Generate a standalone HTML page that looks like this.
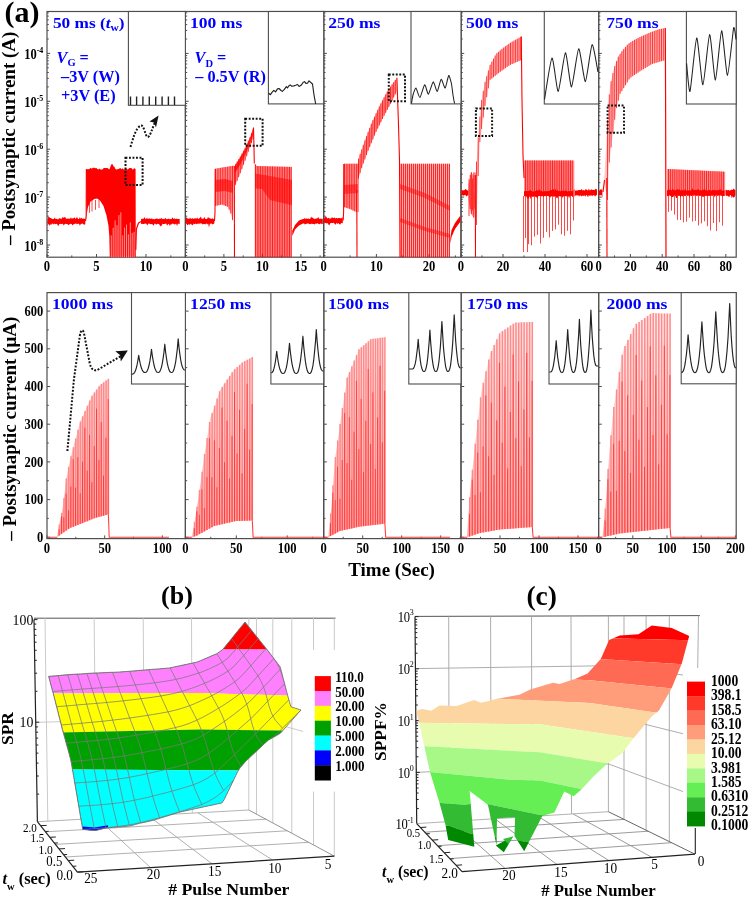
<!DOCTYPE html>
<html><head><meta charset="utf-8"><style>
html,body{margin:0;padding:0;background:#fff;width:749px;height:897px;overflow:hidden}
svg{display:block;will-change:transform;font-family:"Liberation Serif", serif}
</style></head><body>
<svg width="749" height="897" viewBox="0 0 749 897">
<rect width="749" height="897" fill="#fff"/>
<rect x="47" y="11.5" width="138.4" height="245.7" fill="none" stroke="#4e4e4e" stroke-width="1.2"/>
<path d="M47,255.6h1.8M47,252.4h1.8M47,249.6h1.8M47,247.2h1.8M47,245h3.2M47,230.6h1.8M47,222.1h1.8M47,216.2h1.8M47,211.5h1.8M47,207.7h1.8M47,204.5h1.8M47,201.7h1.8M47,199.3h1.8M47,197.1h3.2M47,182.7h1.8M47,174.2h1.8M47,168.3h1.8M47,163.6h1.8M47,159.8h1.8M47,156.6h1.8M47,153.8h1.8M47,151.4h1.8M47,149.2h3.2M47,134.8h1.8M47,126.3h1.8M47,120.4h1.8M47,115.7h1.8M47,111.9h1.8M47,108.7h1.8M47,105.9h1.8M47,103.5h1.8M47,101.3h3.2M47,86.9h1.8M47,78.4h1.8M47,72.5h1.8M47,67.8h1.8M47,64h1.8M47,60.8h1.8M47,58h1.8M47,55.6h1.8M47,53.4h3.2M47,39h1.8M47,30.5h1.8M47,24.6h1.8M47,19.9h1.8M47,16.1h1.8M47,12.9h1.8" stroke="#4e4e4e" stroke-width="1" fill="none"/>
<path d="M47,257.2v-3.2M71.8,257.2v-1.8M96.5,257.2v-3.2M121.2,257.2v-1.8M146,257.2v-3.2M170.8,257.2v-1.8" stroke="#4e4e4e" stroke-width="1" fill="none"/>
<rect x="185.4" y="11.5" width="138.3" height="245.7" fill="none" stroke="#4e4e4e" stroke-width="1.2"/>
<path d="M185.4,255.6h1.8M185.4,252.4h1.8M185.4,249.6h1.8M185.4,247.2h1.8M185.4,245h3.2M185.4,230.6h1.8M185.4,222.1h1.8M185.4,216.2h1.8M185.4,211.5h1.8M185.4,207.7h1.8M185.4,204.5h1.8M185.4,201.7h1.8M185.4,199.3h1.8M185.4,197.1h3.2M185.4,182.7h1.8M185.4,174.2h1.8M185.4,168.3h1.8M185.4,163.6h1.8M185.4,159.8h1.8M185.4,156.6h1.8M185.4,153.8h1.8M185.4,151.4h1.8M185.4,149.2h3.2M185.4,134.8h1.8M185.4,126.3h1.8M185.4,120.4h1.8M185.4,115.7h1.8M185.4,111.9h1.8M185.4,108.7h1.8M185.4,105.9h1.8M185.4,103.5h1.8M185.4,101.3h3.2M185.4,86.9h1.8M185.4,78.4h1.8M185.4,72.5h1.8M185.4,67.8h1.8M185.4,64h1.8M185.4,60.8h1.8M185.4,58h1.8M185.4,55.6h1.8M185.4,53.4h3.2M185.4,39h1.8M185.4,30.5h1.8M185.4,24.6h1.8M185.4,19.9h1.8M185.4,16.1h1.8M185.4,12.9h1.8" stroke="#4e4e4e" stroke-width="1" fill="none"/>
<path d="M185.4,257.2v-3.2M204.7,257.2v-1.8M223.9,257.2v-3.2M243.2,257.2v-1.8M262.4,257.2v-3.2M281.6,257.2v-1.8M300.9,257.2v-3.2M320.1,257.2v-1.8" stroke="#4e4e4e" stroke-width="1" fill="none"/>
<rect x="323.7" y="11.5" width="137.3" height="245.7" fill="none" stroke="#4e4e4e" stroke-width="1.2"/>
<path d="M323.7,255.6h1.8M323.7,252.4h1.8M323.7,249.6h1.8M323.7,247.2h1.8M323.7,245h3.2M323.7,230.6h1.8M323.7,222.1h1.8M323.7,216.2h1.8M323.7,211.5h1.8M323.7,207.7h1.8M323.7,204.5h1.8M323.7,201.7h1.8M323.7,199.3h1.8M323.7,197.1h3.2M323.7,182.7h1.8M323.7,174.2h1.8M323.7,168.3h1.8M323.7,163.6h1.8M323.7,159.8h1.8M323.7,156.6h1.8M323.7,153.8h1.8M323.7,151.4h1.8M323.7,149.2h3.2M323.7,134.8h1.8M323.7,126.3h1.8M323.7,120.4h1.8M323.7,115.7h1.8M323.7,111.9h1.8M323.7,108.7h1.8M323.7,105.9h1.8M323.7,103.5h1.8M323.7,101.3h3.2M323.7,86.9h1.8M323.7,78.4h1.8M323.7,72.5h1.8M323.7,67.8h1.8M323.7,64h1.8M323.7,60.8h1.8M323.7,58h1.8M323.7,55.6h1.8M323.7,53.4h3.2M323.7,39h1.8M323.7,30.5h1.8M323.7,24.6h1.8M323.7,19.9h1.8M323.7,16.1h1.8M323.7,12.9h1.8" stroke="#4e4e4e" stroke-width="1" fill="none"/>
<path d="M323.7,257.2v-3.2M350.1,257.2v-1.8M376.4,257.2v-3.2M402.8,257.2v-1.8M429.1,257.2v-3.2M455.4,257.2v-1.8" stroke="#4e4e4e" stroke-width="1" fill="none"/>
<rect x="461" y="11.5" width="137.6" height="245.7" fill="none" stroke="#4e4e4e" stroke-width="1.2"/>
<path d="M461,255.6h1.8M461,252.4h1.8M461,249.6h1.8M461,247.2h1.8M461,245h3.2M461,230.6h1.8M461,222.1h1.8M461,216.2h1.8M461,211.5h1.8M461,207.7h1.8M461,204.5h1.8M461,201.7h1.8M461,199.3h1.8M461,197.1h3.2M461,182.7h1.8M461,174.2h1.8M461,168.3h1.8M461,163.6h1.8M461,159.8h1.8M461,156.6h1.8M461,153.8h1.8M461,151.4h1.8M461,149.2h3.2M461,134.8h1.8M461,126.3h1.8M461,120.4h1.8M461,115.7h1.8M461,111.9h1.8M461,108.7h1.8M461,105.9h1.8M461,103.5h1.8M461,101.3h3.2M461,86.9h1.8M461,78.4h1.8M461,72.5h1.8M461,67.8h1.8M461,64h1.8M461,60.8h1.8M461,58h1.8M461,55.6h1.8M461,53.4h3.2M461,39h1.8M461,30.5h1.8M461,24.6h1.8M461,19.9h1.8M461,16.1h1.8M461,12.9h1.8" stroke="#4e4e4e" stroke-width="1" fill="none"/>
<path d="M461,257.2v-3.2M482,257.2v-1.8M503,257.2v-3.2M524,257.2v-1.8M545,257.2v-3.2M566,257.2v-1.8M587,257.2v-3.2" stroke="#4e4e4e" stroke-width="1" fill="none"/>
<rect x="598.6" y="11.5" width="137.6" height="245.7" fill="none" stroke="#4e4e4e" stroke-width="1.2"/>
<path d="M598.6,255.6h1.8M598.6,252.4h1.8M598.6,249.6h1.8M598.6,247.2h1.8M598.6,245h3.2M598.6,230.6h1.8M598.6,222.1h1.8M598.6,216.2h1.8M598.6,211.5h1.8M598.6,207.7h1.8M598.6,204.5h1.8M598.6,201.7h1.8M598.6,199.3h1.8M598.6,197.1h3.2M598.6,182.7h1.8M598.6,174.2h1.8M598.6,168.3h1.8M598.6,163.6h1.8M598.6,159.8h1.8M598.6,156.6h1.8M598.6,153.8h1.8M598.6,151.4h1.8M598.6,149.2h3.2M598.6,134.8h1.8M598.6,126.3h1.8M598.6,120.4h1.8M598.6,115.7h1.8M598.6,111.9h1.8M598.6,108.7h1.8M598.6,105.9h1.8M598.6,103.5h1.8M598.6,101.3h3.2M598.6,86.9h1.8M598.6,78.4h1.8M598.6,72.5h1.8M598.6,67.8h1.8M598.6,64h1.8M598.6,60.8h1.8M598.6,58h1.8M598.6,55.6h1.8M598.6,53.4h3.2M598.6,39h1.8M598.6,30.5h1.8M598.6,24.6h1.8M598.6,19.9h1.8M598.6,16.1h1.8M598.6,12.9h1.8" stroke="#4e4e4e" stroke-width="1" fill="none"/>
<path d="M598.6,257.2v-3.2M614.5,257.2v-1.8M630.4,257.2v-3.2M646.3,257.2v-1.8M662.2,257.2v-3.2M678.1,257.2v-1.8M694,257.2v-3.2M709.9,257.2v-1.8M725.8,257.2v-3.2" stroke="#4e4e4e" stroke-width="1" fill="none"/>
<rect x="47" y="292.6" width="138.4" height="246" fill="none" stroke="#4e4e4e" stroke-width="1.2"/>
<path d="M47,537.3h3.2M47,518.4h1.8M47,499.6h3.2M47,480.7h1.8M47,461.9h3.2M47,443h1.8M47,424.2h3.2M47,405.3h1.8M47,386.5h3.2M47,367.6h1.8M47,348.8h3.2M47,329.9h1.8M47,311.1h3.2" stroke="#4e4e4e" stroke-width="1" fill="none"/>
<path d="M47,538.6v-3.2M75.8,538.6v-1.8M104.7,538.6v-3.2M133.5,538.6v-1.8M162.3,538.6v-3.2" stroke="#4e4e4e" stroke-width="1" fill="none"/>
<rect x="185.4" y="292.6" width="138.3" height="246" fill="none" stroke="#4e4e4e" stroke-width="1.2"/>
<path d="M185.4,537.3h3.2M185.4,518.4h1.8M185.4,499.6h3.2M185.4,480.7h1.8M185.4,461.9h3.2M185.4,443h1.8M185.4,424.2h3.2M185.4,405.3h1.8M185.4,386.5h3.2M185.4,367.6h1.8M185.4,348.8h3.2M185.4,329.9h1.8M185.4,311.1h3.2" stroke="#4e4e4e" stroke-width="1" fill="none"/>
<path d="M185.4,538.6v-3.2M210.8,538.6v-1.8M236.3,538.6v-3.2M261.8,538.6v-1.8M287.2,538.6v-3.2M312.6,538.6v-1.8" stroke="#4e4e4e" stroke-width="1" fill="none"/>
<rect x="323.7" y="292.6" width="137.3" height="246" fill="none" stroke="#4e4e4e" stroke-width="1.2"/>
<path d="M323.7,537.3h3.2M323.7,518.4h1.8M323.7,499.6h3.2M323.7,480.7h1.8M323.7,461.9h3.2M323.7,443h1.8M323.7,424.2h3.2M323.7,405.3h1.8M323.7,386.5h3.2M323.7,367.6h1.8M323.7,348.8h3.2M323.7,329.9h1.8M323.7,311.1h3.2" stroke="#4e4e4e" stroke-width="1" fill="none"/>
<path d="M323.7,538.6v-3.2M343.2,538.6v-1.8M362.7,538.6v-3.2M382.2,538.6v-1.8M401.7,538.6v-3.2M421.2,538.6v-1.8M440.7,538.6v-3.2M460.2,538.6v-1.8" stroke="#4e4e4e" stroke-width="1" fill="none"/>
<rect x="461" y="292.6" width="137.6" height="246" fill="none" stroke="#4e4e4e" stroke-width="1.2"/>
<path d="M461,537.3h3.2M461,518.4h1.8M461,499.6h3.2M461,480.7h1.8M461,461.9h3.2M461,443h1.8M461,424.2h3.2M461,405.3h1.8M461,386.5h3.2M461,367.6h1.8M461,348.8h3.2M461,329.9h1.8M461,311.1h3.2" stroke="#4e4e4e" stroke-width="1" fill="none"/>
<path d="M461,538.6v-3.2M480.5,538.6v-1.8M500,538.6v-3.2M519.5,538.6v-1.8M539,538.6v-3.2M558.5,538.6v-1.8M578,538.6v-3.2M597.5,538.6v-1.8" stroke="#4e4e4e" stroke-width="1" fill="none"/>
<rect x="598.6" y="292.6" width="137.6" height="246" fill="none" stroke="#4e4e4e" stroke-width="1.2"/>
<path d="M598.6,537.3h3.2M598.6,518.4h1.8M598.6,499.6h3.2M598.6,480.7h1.8M598.6,461.9h3.2M598.6,443h1.8M598.6,424.2h3.2M598.6,405.3h1.8M598.6,386.5h3.2M598.6,367.6h1.8M598.6,348.8h3.2M598.6,329.9h1.8M598.6,311.1h3.2" stroke="#4e4e4e" stroke-width="1" fill="none"/>
<path d="M598.6,538.6v-3.2M615.7,538.6v-1.8M632.8,538.6v-3.2M649.9,538.6v-1.8M667,538.6v-3.2M684.1,538.6v-1.8M701.2,538.6v-3.2M718.3,538.6v-1.8M735.4,538.6v-3.2" stroke="#4e4e4e" stroke-width="1" fill="none"/>
<defs>
<clipPath id="ct0"><rect x="47" y="11.5" width="138.4" height="245.7"/></clipPath>
<clipPath id="cb0"><rect x="47" y="292.6" width="138.4" height="246"/></clipPath>
<clipPath id="ct1"><rect x="185.4" y="11.5" width="138.3" height="245.7"/></clipPath>
<clipPath id="cb1"><rect x="185.4" y="292.6" width="138.3" height="246"/></clipPath>
<clipPath id="ct2"><rect x="323.7" y="11.5" width="137.3" height="245.7"/></clipPath>
<clipPath id="cb2"><rect x="323.7" y="292.6" width="137.3" height="246"/></clipPath>
<clipPath id="ct3"><rect x="461" y="11.5" width="137.6" height="245.7"/></clipPath>
<clipPath id="cb3"><rect x="461" y="292.6" width="137.6" height="246"/></clipPath>
<clipPath id="ct4"><rect x="598.6" y="11.5" width="137.6" height="245.7"/></clipPath>
<clipPath id="cb4"><rect x="598.6" y="292.6" width="137.6" height="246"/></clipPath>
<linearGradient id="spg" gradientUnits="userSpaceOnUse" x1="0" y1="320" x2="0" y2="535"><stop offset="0" stop-color="#ffeaea"/><stop offset="0.55" stop-color="#ffc8c8"/><stop offset="1" stop-color="#ffa8a8"/></linearGradient>
</defs>
<g clip-path="url(#ct0)">
<polygon points="47.5,219.1 48.4,217.1 49.3,217.1 50.2,218.1 51.1,218.1 52,219.1 52.9,219.1 53.8,218.9 54.7,217.6 55.6,219 56.5,218.7 57.4,219.3 58.3,219.2 59.2,218.3 60.1,218.3 61,218.9 61.9,218.6 62.8,216.8 63.7,218 64.6,217 65.5,217.6 66.4,218.9 67.3,218.6 68.2,218.7 69.1,218.4 70,219.1 70.9,217.3 71.8,218.7 72.7,218.3 73.6,218.3 74.5,217.2 75.4,219.1 76.3,217.7 77.2,217.3 78.1,219 79,219.1 79.9,217 80.8,219 81.7,217.6 82.6,219.1 83.5,218.6 84.4,218.7 85.3,219.1 85.3,224 84.4,224.7 83.5,224.4 82.6,223.6 81.7,223.8 80.8,224 79.9,225.7 79,223.8 78.1,223.8 77.2,224 76.3,223.7 75.4,223.6 74.5,224 73.6,224.3 72.7,225.6 71.8,224.3 70.9,223.8 70,224 69.1,224.8 68.2,224.9 67.3,223.9 66.4,223.9 65.5,223.8 64.6,224.3 63.7,225.5 62.8,223.7 61.9,223.9 61,224 60.1,223.8 59.2,224.2 58.3,226.2 57.4,224.5 56.5,223.7 55.6,224.3 54.7,223.6 53.8,224.5 52.9,223.8 52,223.5 51.1,224.9 50.2,224.2 49.3,225.7 48.4,223.7 47.5,225.9" fill="#ff0000" fill-opacity="1.0"/>
<polyline points="85.5,221 86.2,216 86.4,169" fill="none" stroke="#ff0000" stroke-width="1.2" stroke-opacity="1.0" stroke-linejoin="round"/>
<polygon points="86.4,169.3 87.4,169.2 88.4,169.2 89.4,169.1 90.4,168.1 91.4,168.6 92.4,168.3 93.4,167.7 94.4,167.7 95.4,168.2 96.4,168.1 97.4,169 98.4,169.5 99.4,168.5 100.4,169.5 101.4,169.6 102.4,169.5 103.4,168.3 104.4,168 105.4,168.1 106.4,168 107.4,168 108.4,168.8 109.4,169.4 110.4,166.7 111.4,164.2 112.4,164.1 113.4,166.3 114.4,166.7 115.4,168.9 116.4,169.4 117.4,169.2 118.4,169.1 119.4,168.6 120.4,168 121.4,169.2 122.4,168.3 123.4,169.2 124.4,169.5 125.4,168.4 126.4,168.4 127.4,169.5 128.4,169 129.4,167.9 130.4,167.9 131.4,167.9 132.4,169.4 133.4,169.2 134.4,167.9 135.4,169.3 135.6,168.6 135.8,257.5 109.8,257.5 109.3,236 108.5,226 106.5,215.5 103.5,206 100,200.5 97,198.5 94.4,199 90.5,201.5 88,207 86.8,214 86.6,221" fill="#ff0000" fill-opacity="1.0"/>
<path d="M111.3,235.5V257.5M113.2,227.8V257.5M115.1,220.4V257.5M117,225.2V257.5M118.9,215.1V257.5M120.8,212.3V257.5M122.7,235.3V257.5M124.6,227.6V257.5M126.5,224.6V257.5M128.4,234.4V257.5M130.3,222.4V257.5M132.2,232.9V257.5M134.1,231.8V257.5" stroke="#ffffff" stroke-width="0.9" stroke-opacity="0.62" fill="none"/>
<path d="M89.5,200V212.8M92,200V211.5M95.5,200V209.8M99,200V208" stroke="#ff0000" stroke-width="0.8" stroke-opacity="0.9" fill="none"/>
<polyline points="135.8,250 136.4,229 138.5,223 141,221.5" fill="none" stroke="#ff0000" stroke-width="1.2" stroke-opacity="1.0" stroke-linejoin="round"/>
<polygon points="141,219.2 141.9,218.8 142.8,218.7 143.7,218.7 144.6,217 145.5,219.3 146.4,218.2 147.3,218.4 148.2,218.8 149.1,218.4 150,218.4 150.9,219 151.8,218.3 152.7,219.2 153.6,219.1 154.5,219.3 155.4,219 156.3,218.4 157.2,218.6 158.1,219.1 159,219.1 159.9,218.4 160.8,218.8 161.7,218.1 162.6,219.3 163.5,218.8 164.4,219.3 165.3,217.7 166.2,219.1 167.1,219.2 168,218.8 168.9,218.8 169.8,219.3 170.7,219.1 171.6,219.1 172.5,217.3 173.4,218.9 174.3,218.3 175.2,218.9 176.1,218.7 177,218.8 177.9,219.1 178.8,219.1 179.7,219 179.7,224.1 178.8,223.8 177.9,223.7 177,226.1 176.1,223.6 175.2,224.2 174.3,224.4 173.4,223.7 172.5,223.6 171.6,224.4 170.7,224.2 169.8,225.9 168.9,223.8 168,224.2 167.1,225.8 166.2,223.6 165.3,223.8 164.4,224 163.5,224.1 162.6,223.7 161.7,225.6 160.8,226.5 159.9,225.6 159,223.9 158.1,223.9 157.2,223.7 156.3,224.8 155.4,223.8 154.5,223.8 153.6,225.8 152.7,224.5 151.8,223.9 150.9,224.3 150,223.9 149.1,223.5 148.2,223.7 147.3,225.6 146.4,223.7 145.5,223.6 144.6,223.7 143.7,224 142.8,223.9 141.9,223.8 141,224.1" fill="#ff0000" fill-opacity="1.0"/>
</g>
<g clip-path="url(#ct1)">
<polygon points="185.6,218.7 186.5,217.3 187.4,218.5 188.3,218.5 189.2,219 190.1,217.4 191,219 191.9,218.5 192.8,218.2 193.7,219 194.6,218.3 195.5,218.3 196.4,218.7 197.3,217.4 198.2,218.9 199.1,218.4 200,217.8 200.9,216.6 201.8,219.1 202.7,218.8 203.6,218.5 204.5,216.9 205.4,219.1 206.3,218.9 207.2,218.7 208.1,216.8 209,218.5 209.9,217.8 210.8,219 211.7,218.8 212.6,218.2 213.5,219 214.4,219 214.4,223.3 213.5,223.9 212.6,224.4 211.7,223.5 210.8,223.8 209.9,223.7 209,227.4 208.1,223.5 207.2,224.4 206.3,223.3 205.4,224.6 204.5,224.1 203.6,223.9 202.7,224.6 201.8,223.6 200.9,223.6 200,223.3 199.1,224.1 198.2,223.6 197.3,223.8 196.4,224.2 195.5,223.4 194.6,224.2 193.7,223.5 192.8,225.4 191.9,224.4 191,224.4 190.1,223.4 189.2,225.3 188.3,223.9 187.4,225.4 186.5,223.8 185.6,223.4" fill="#ff0000" fill-opacity="1.0"/>
<polyline points="214.5,221 215,212 215.2,169" fill="none" stroke="#ff0000" stroke-width="1.1" stroke-opacity="1.0" stroke-linejoin="round"/>
<polygon points="215.2,168.8 234.5,165.4 233,222 231,214 228,207 222,204.5 215.2,206" fill="#ff0000" fill-opacity="0.32"/>
<path d="M215.5,168.7V205.9M217.2,168.4V205.6M218.9,168.1V205.2M220.6,167.8V204.8M222.3,167.5V204.6M224,167.2V205.3M225.7,167V206M227.4,166.7V206.7M229.1,166.4V209.6M230.8,166.1V213.5M232.5,165.8V220" stroke="#ff0000" stroke-width="0.9" stroke-opacity="0.85" fill="none"/>
<polygon points="215.2,180 225,179 233,181 233,193 225,191 215.2,192" fill="#ff0000" fill-opacity="0.6"/>
<polyline points="234.3,166 234.5,257.5" fill="none" stroke="#ff0000" stroke-width="1.1" stroke-opacity="1.0" stroke-linejoin="round"/>
<polygon points="235,165 240,157 245,148 250,137 253.5,127.6 253.5,138 250,147 245,161 240,174 235,186" fill="#ff0000" fill-opacity="0.35"/>
<path d="M235.5,164.2V184.8M237.1,161.6V181M238.7,159.1V177.1M240.3,156.5V173.2M241.9,153.6V169.1M243.5,150.7V164.9M245.1,147.8V160.7M246.7,144.3V156.2M248.3,140.7V151.8M249.9,137.2V147.3M251.5,133V143.1M253.1,128.7V139" stroke="#ff0000" stroke-width="0.9" stroke-opacity="0.85" fill="none"/>
<polygon points="235,166 240,158 245,149 250,138 253.5,128 253.5,134 250,144 245,155 240,165 235,173" fill="#ff0000" fill-opacity="0.75"/>
<polyline points="253.5,127.6 254,148.5 254.3,163.5" fill="none" stroke="#ff0000" stroke-width="1.1" stroke-opacity="1.0" stroke-linejoin="round"/>
<polygon points="254.6,163.5 257,166 291.9,166.9 291.9,257.5 254.6,257.5" fill="#ff0000" fill-opacity="0.36"/>
<path d="M255.5,164.4V257.5M257.2,166V257.5M258.9,166V257.5M260.6,166.1V257.5M262.3,166.1V257.5M264,166.2V257.5M265.7,166.2V257.5M267.4,166.3V257.5M269.1,166.3V257.5M270.8,166.4V257.5M272.5,166.4V257.5M274.2,166.4V257.5M275.9,166.5V257.5M277.6,166.5V257.5M279.3,166.6V257.5M281,166.6V257.5M282.7,166.7V257.5M284.4,166.7V257.5M286.1,166.8V257.5M287.8,166.8V257.5M289.5,166.8V257.5M291.2,166.9V257.5" stroke="#ff0000" stroke-width="0.9" stroke-opacity="0.9" fill="none"/>
<polygon points="255,173.5 270,176 292,180 292,205.3 270,200 262,189 255,188.6" fill="#ff0000" fill-opacity="0.55"/>
<polygon points="292.2,231 295,225 299,220.5 303,219 303,223.5 299,225.5 295,229.5 292.4,236" fill="#ff0000" fill-opacity="1.0"/>
<polygon points="303,219 303.9,219.1 304.8,217.9 305.7,218.9 306.6,218.5 307.5,218.8 308.4,218.6 309.3,218.9 310.2,218.7 311.1,216.5 312,218 312.9,217.6 313.8,218.8 314.7,219 315.6,218.8 316.5,218.4 317.4,218.3 318.3,217.1 319.2,219.1 320.1,218.5 321,219 321.9,218.5 322.8,219 322.8,223.9 321.9,224 321,223.5 320.1,223.7 319.2,224.3 318.3,223.7 317.4,223.3 316.5,223.8 315.6,223.6 314.7,224.5 313.8,223.9 312.9,223.9 312,223.7 311.1,223.7 310.2,224.3 309.3,224 308.4,223.5 307.5,223.4 306.6,223.7 305.7,224 304.8,224.6 303.9,223.3 303,223.7" fill="#ff0000" fill-opacity="1.0"/>
</g>
<g clip-path="url(#ct2)">
<polygon points="323.9,216.9 324.8,218.3 325.7,216.1 326.6,217.3 327.5,218.5 328.4,217.8 329.3,218.4 330.2,218.4 331.1,218.4 332,216.9 332.9,217.9 333.8,217.9 334.7,217.6 335.6,218.5 336.5,217.7 337.4,218.5 338.3,217.9 339.2,218.1 340.1,218 341,218.4 341.9,217.7 342.8,217.6 342.8,223.3 341.9,223 341,223.3 340.1,224.7 339.2,224.1 338.3,222.9 337.4,223.9 336.5,222.8 335.6,224.7 334.7,224 333.8,222.7 332.9,223.1 332,223.1 331.1,223.1 330.2,223.3 329.3,225.6 328.4,224.4 327.5,223.1 326.6,223.4 325.7,222.9 324.8,222.7 323.9,223.4" fill="#ff0000" fill-opacity="1.0"/>
<polyline points="343.2,220.5 343.6,212 343.8,164" fill="none" stroke="#ff0000" stroke-width="1.1" stroke-opacity="1.0" stroke-linejoin="round"/>
<polygon points="343.8,163.7 358.7,163.7 356,212 350,209 343.8,207" fill="#ff0000" fill-opacity="0.33"/>
<path d="M344.5,163.7V207.2M346.2,163.7V207.8M347.9,163.7V208.3M349.6,163.7V208.9M351.3,163.7V209.6M353,163.7V210.5M354.7,163.7V211.3M356.4,163.7V212M358.1,163.7V212" stroke="#ff0000" stroke-width="0.9" stroke-opacity="0.85" fill="none"/>
<polygon points="344,185 358,184 358,193 344,194" fill="#ff0000" fill-opacity="0.5"/>
<polyline points="356.8,190 357,257.5" fill="none" stroke="#ff0000" stroke-width="1.1" stroke-opacity="1.0" stroke-linejoin="round"/>
<polygon points="358,160 365,140 372,122 380,105 388,90 396.9,77.8 396.9,91 392,101 384,116 376,132 368,151 362,167 358,180" fill="#ff0000" fill-opacity="0.35"/>
<path d="M358.5,158.6V178.4M360.1,154V173.2M361.7,149.4V168M363.3,144.9V163.5M364.9,140.3V159.3M366.5,136.1V155M368.1,132V150.8M369.7,127.9V147M371.3,123.8V143.2M372.9,120.1V139.4M374.5,116.7V135.6M376.1,113.3V131.8M377.7,109.9V128.6M379.3,106.5V125.4M380.9,103.3V122.2M382.5,100.3V119M384.1,97.3V115.8M385.7,94.3V112.8M387.3,91.3V109.8M388.9,88.8V106.8M390.5,86.6V103.8M392.1,84.4V100.8M393.7,82.2V97.5M395.3,80V94.3" stroke="#ff0000" stroke-width="0.9" stroke-opacity="0.85" fill="none"/>
<polyline points="396.9,77.8 398.5,125 399.5,160 400,257.5" fill="none" stroke="#ff0000" stroke-width="1.1" stroke-opacity="1.0" stroke-linejoin="round"/>
<polygon points="400,163.7 450,163.7 450,257.5 400,257.5" fill="#ff0000" fill-opacity="0.33"/>
<path d="M401.5,163.7V257.5M403.5,163.7V257.5M405.5,163.7V257.5M407.5,163.7V257.5M409.5,163.7V257.5M411.5,163.7V257.5M413.5,163.7V257.5M415.5,163.7V257.5M417.5,163.7V257.5M419.5,163.7V257.5M421.5,163.7V257.5M423.5,163.7V257.5M425.5,163.7V257.5M427.5,163.7V257.5M429.5,163.7V257.5M431.5,163.7V257.5M433.5,163.7V257.5M435.5,163.7V257.5M437.5,163.7V257.5M439.5,163.7V257.5M441.5,163.7V257.5M443.5,163.7V257.5M445.5,163.7V257.5M447.5,163.7V257.5M449.5,163.7V257.5" stroke="#ff0000" stroke-width="0.9" stroke-opacity="0.85" fill="none"/>
<polygon points="400,184 425,193 450,206 450,211 425,198 400,189" fill="#ff0000" fill-opacity="0.45"/>
<polygon points="400,218 425,227 450,234 450,238 425,231 400,222" fill="#ff0000" fill-opacity="0.45"/>
<polygon points="450.3,238 451.5,230 455,223 460.5,215.5 460.5,221.5 455,229 451.5,237 450.5,244" fill="#ff0000" fill-opacity="1.0"/>
</g>
<g clip-path="url(#ct3)">
<polygon points="461.2,190.3 462.1,190.5 463,189.9 463.9,190.5 464.8,189.7 465.7,189 466.6,189.7 467.5,190.5 468.4,190.5 468.4,195 467.5,195.6 466.6,196.5 465.7,195.3 464.8,195.1 463.9,195.4 463,195.8 462.1,195 461.2,195.2" fill="#ff0000" fill-opacity="1.0"/>
<polygon points="468.5,185 471,172 474,176 475,200 474,218 471,214 468.5,200" fill="#ff0000" fill-opacity="0.45"/>
<path d="M469,179.4V216.1M470.2,174.9V209M471.4,172.2V213.9M472.6,178.5V210.3M473.8,172.3V217.7M475,172.5V208.8" stroke="#ff0000" stroke-width="0.9" stroke-opacity="0.85" fill="none"/>
<polyline points="475.3,175 475.5,257.5" fill="none" stroke="#ff0000" stroke-width="1.1" stroke-opacity="1.0" stroke-linejoin="round"/>
<polygon points="475.5,176 478,140 481,103 485,82 490,65 496,54 503,48 510,43 516,39.5 521.3,36.5 521.3,60 510,65 500,72 490,80 485,106 480,140 478,180 476.5,225" fill="#ff0000" fill-opacity="0.22"/>
<path d="M476.5,161.6V225M478.2,137.5V176M479.9,116.6V142M481.6,99.9V129.1M483.3,90.9V117.6M485,82V106M486.7,76.2V97.2M488.4,70.4V88.3M490.1,64.8V79.9M491.8,61.7V78.6M493.5,58.6V77.2M495.2,55.5V75.8M496.9,53.2V74.5M498.6,51.8V73.1M500.3,50.3V71.8M502,48.9V70.6M503.7,47.5V69.4M505.4,46.3V68.2M507.1,45.1V67M508.8,43.9V65.8M510.5,42.7V64.8M512.2,41.7V64M513.9,40.7V63.3M515.6,39.7V62.5M517.3,38.8V61.8M519,37.8V61M520.7,36.8V60.3" stroke="#ff0000" stroke-width="0.9" stroke-opacity="0.8" fill="none"/>
<polyline points="521.3,36.5 522,100 523,155 524,178" fill="none" stroke="#ff0000" stroke-width="1.1" stroke-opacity="1.0" stroke-linejoin="round"/>
<polygon points="524,160.4 574.3,160.4 574.3,196 524,196" fill="#ff0000" fill-opacity="0.42"/>
<path d="M525.5,160.4V196M527.3,160.4V196M529.1,160.4V196M530.9,160.4V196M532.7,160.4V196M534.5,160.4V196M536.3,160.4V196M538.1,160.4V196M539.9,160.4V196M541.7,160.4V196M543.5,160.4V196M545.3,160.4V196M547.1,160.4V196M548.9,160.4V196M550.7,160.4V196M552.5,160.4V196M554.3,160.4V196M556.1,160.4V196M557.9,160.4V196M559.7,160.4V196M561.5,160.4V196M563.3,160.4V196M565.1,160.4V196M566.9,160.4V196M568.7,160.4V196M570.5,160.4V196M572.3,160.4V196" stroke="#ff0000" stroke-width="0.9" stroke-opacity="0.85" fill="none"/>
<path d="M525.5,196V238.1M528.5,196V244.1M531.5,196V245.3M534.5,196V236.6M537.5,196V234.8M540.5,196V243.5M543.5,196V237.8M546.5,196V231.9M549.5,196V237.4M552.5,196V230.9M555.5,196V229.4M558.5,196V224.7M561.5,196V234.3M564.5,196V235.7M567.5,196V230.8M570.5,196V234.3M573.5,196V220.5" stroke="#ff0000" stroke-width="0.9" stroke-opacity="0.8" fill="none"/>
<path d="M523.5,196V252M527.5,196V252" stroke="#ff0000" stroke-width="0.9" stroke-opacity="0.8" fill="none"/>
<polygon points="524,191.4 524.9,191.1 525.8,191.1 526.7,191 527.6,191.2 528.5,191.1 529.4,190.6 530.3,190 531.2,190.8 532.1,191.4 533,191.5 533.9,191.2 534.8,191.5 535.7,190.7 536.6,189.8 537.5,191.1 538.4,190.2 539.3,189.4 540.2,190.6 541.1,191 542,191.2 542.9,191.4 543.8,191.5 544.7,190.9 545.6,191.3 546.5,191.2 547.4,191.3 548.3,191 549.2,191.2 550.1,189.9 551,189.9 551.9,190.3 552.8,189.6 553.7,189 554.6,190.9 555.5,188.4 556.4,190.9 557.3,189.7 558.2,190.9 559.1,191.3 560,190.4 560.9,191.4 561.8,191.1 562.7,190.6 563.6,191.3 564.5,191.1 565.4,190.6 566.3,190.5 567.2,191.4 568.1,191.2 569,190.9 569.9,191.3 570.8,191.3 571.7,191.1 572.6,191.4 573.5,189.7 573.5,195.8 572.6,197.2 571.7,195.8 570.8,195.7 569.9,196 569,198.2 568.1,195.8 567.2,197.1 566.3,195.9 565.4,196.2 564.5,196.2 563.6,196 562.7,198 561.8,196.1 560.9,196.5 560,196.6 559.1,196.1 558.2,196.1 557.3,198.5 556.4,197.7 555.5,195.9 554.6,196.4 553.7,197.1 552.8,195.8 551.9,196.4 551,196.2 550.1,197.7 549.2,196.7 548.3,196.1 547.4,196 546.5,195.8 545.6,196.2 544.7,195.8 543.8,196.8 542.9,196.5 542,195.8 541.1,196.4 540.2,195.9 539.3,195.9 538.4,195.9 537.5,198.8 536.6,197.2 535.7,197.1 534.8,196.2 533.9,196.3 533,197.2 532.1,196.5 531.2,196.2 530.3,199.3 529.4,195.9 528.5,199 527.6,198.4 526.7,196.9 525.8,195.9 524.9,196.1 524,196.6" fill="#ff0000" fill-opacity="1.0"/>
<polygon points="574.5,188.8 575.4,190.7 576.3,190.5 577.2,190.6 578.1,190.3 579,190.1 579.9,190.1 580.8,190.1 581.7,189 582.6,190.5 583.5,189.9 584.4,190.7 585.3,189.4 586.2,189.2 587.1,190.1 588,190.4 588.9,188.5 589.8,190.6 590.7,190.1 591.6,189.2 592.5,189.9 593.4,189.7 594.3,190.2 595.2,189.2 596.1,188.8 597,189.8 597,195 596.1,195.2 595.2,196.6 594.3,195.6 593.4,195 592.5,195.9 591.6,195.4 590.7,195.5 589.8,195.9 588.9,194.9 588,197.3 587.1,195.5 586.2,194.9 585.3,196.7 584.4,195.2 583.5,195.9 582.6,195.5 581.7,196.4 580.8,195.6 579.9,195.6 579,196.4 578.1,195 577.2,195.5 576.3,195.3 575.4,195.4 574.5,196.7" fill="#ff0000" fill-opacity="1.0"/>
</g>
<g clip-path="url(#ct4)">
<polygon points="598.8,190.3 599.7,190.4 600.6,189.2 601.5,189.3 602.4,190.6 602.4,197.7 601.5,194.9 600.6,195.3 599.7,195.3 598.8,195.8" fill="#ff0000" fill-opacity="1.0"/>
<polyline points="603,192 604.5,180" fill="none" stroke="#ff0000" stroke-width="1.1" stroke-opacity="1.0" stroke-linejoin="round"/>
<polyline points="606.8,178 607,257.5" fill="none" stroke="#ff0000" stroke-width="1.1" stroke-opacity="1.0" stroke-linejoin="round"/>
<polygon points="604,182 606,150 608,110 610,86 614,68 618,57 622,51 628,44 634,40 640,37 650,32.5 658,29.5 665,28.1 665,60.2 652,64 640,71.3 630,78 620,94 616,110 612,140 609,165 607.5,200" fill="#ff0000" fill-opacity="0.22"/>
<path d="M607.5,120V200M609.3,94.4V162.5M611.1,81.1V147.5M612.9,73V133.3M614.7,66.1V119.8M616.5,61.1V108M618.3,56.6V100.8M620.1,53.9V93.8M621.9,51.2V91M623.7,49V88.1M625.5,46.9V85.2M627.3,44.8V82.3M629.1,43.3V79.4M630.9,42.1V77.4M632.7,40.9V76.2M634.5,39.8V75M636.3,38.9V73.8M638.1,38V72.6M639.9,37.1V71.4M641.7,36.2V70.3M643.5,35.4V69.2M645.3,34.6V68.1M647.1,33.8V67M648.9,33V65.9M650.7,32.2V64.8M652.5,31.6V63.9M654.3,30.9V63.3M656.1,30.2V62.8M657.9,29.5V62.3M659.7,29.2V61.7M661.5,28.8V61.2M663.3,28.4V60.7" stroke="#ff0000" stroke-width="0.9" stroke-opacity="0.8" fill="none"/>
<polyline points="665.3,28 665.6,100 666,257.5" fill="none" stroke="#ff0000" stroke-width="1.2" stroke-opacity="1.0" stroke-linejoin="round"/>
<polygon points="667,168.9 725.2,171.7 725.2,196 667,196" fill="#ff0000" fill-opacity="0.4"/>
<path d="M668.5,169V196M670.4,169.1V196M672.3,169.2V196M674.2,169.2V196M676.1,169.3V196M678,169.4V196M679.9,169.5V196M681.8,169.6V196M683.7,169.7V196M685.6,169.8V196M687.5,169.9V196M689.4,170V196M691.3,170.1V196M693.2,170.2V196M695.1,170.3V196M697,170.3V196M698.9,170.4V196M700.8,170.5V196M702.7,170.6V196M704.6,170.7V196M706.5,170.8V196M708.4,170.9V196M710.3,171V196M712.2,171.1V196M714.1,171.2V196M716,171.3V196M717.9,171.3V196M719.8,171.4V196M721.7,171.5V196M723.6,171.6V196" stroke="#ff0000" stroke-width="0.9" stroke-opacity="0.85" fill="none"/>
<path d="M668.5,196V211.9M671.5,196V210.6M674.5,196V214.6M677.5,196V219.9M680.5,196V220M683.5,196V222.4M686.5,196V221.7M689.5,196V217.6M692.5,196V221.5M695.5,196V220.9M698.5,196V225.5M701.5,196V223.4M704.5,196V221.3M707.5,196V226.2M710.5,196V230.5M713.5,196V223M716.5,196V231.1M719.5,196V222.3M722.5,196V225.7" stroke="#ff0000" stroke-width="0.9" stroke-opacity="0.8" fill="none"/>
<polygon points="667,190.5 667.9,189.9 668.8,189.8 669.7,189.8 670.6,190.1 671.5,190.4 672.4,188.8 673.3,190 674.2,189.6 675.1,190.6 676,190.1 676.9,189.6 677.8,189 678.7,190.2 679.6,189 680.5,190.4 681.4,190.6 682.3,189.8 683.2,190.5 684.1,190.5 685,188.8 685.9,190.6 686.8,190.5 687.7,190.5 688.6,190.3 689.5,190.4 690.4,190.4 691.3,190.4 692.2,187.9 693.1,190.1 694,189.9 694.9,189.8 695.8,190.2 696.7,190 697.6,189.5 698.5,189.2 699.4,190.3 700.3,190.3 701.2,190.3 702.1,190.6 703,189.1 703.9,190.2 704.8,188.9 705.7,190.3 706.6,190.2 707.5,190.5 708.4,190.6 709.3,189.7 710.2,190.2 711.1,190.4 712,190.4 712.9,189.7 713.8,190.2 714.7,190 715.6,190.2 716.5,190.3 717.4,190.4 718.3,189.9 719.2,190.3 720.1,188.4 721,190.5 721.9,190.4 722.8,190.5 723.7,190.4 724.6,190.4 724.6,196.2 723.7,195.6 722.8,196.7 721.9,195.5 721,194.9 720.1,194.9 719.2,195.5 718.3,194.9 717.4,195.7 716.5,194.8 715.6,194.9 714.7,197.4 713.8,195 712.9,195.1 712,195.9 711.1,195.1 710.2,195.8 709.3,195.7 708.4,195.6 707.5,196.5 706.6,194.9 705.7,196 704.8,195.6 703.9,197 703,196.3 702.1,197.2 701.2,195.4 700.3,195.3 699.4,196 698.5,195.2 697.6,195.3 696.7,195.8 695.8,195.4 694.9,195 694,194.8 693.1,194.9 692.2,195.8 691.3,195.9 690.4,195 689.5,198 688.6,195.3 687.7,195.3 686.8,194.8 685.9,194.8 685,196.4 684.1,195.5 683.2,194.9 682.3,196.7 681.4,195.5 680.5,197.5 679.6,195.2 678.7,195.8 677.8,195.2 676.9,198.1 676,198.1 675.1,195.1 674.2,195.1 673.3,197.1 672.4,197 671.5,197.3 670.6,195.5 669.7,194.9 668.8,195.4 667.9,196.3 667,196.1" fill="#ff0000" fill-opacity="1.0"/>
<polygon points="725.5,190.1 726.4,189.8 727.3,190.4 728.2,189.8 729.1,190.6 730,190.5 730.9,189.9 731.8,189.6 732.7,189.9 733.6,188.6 734.5,189.6 735.4,190.3 735.4,195.3 734.5,197.1 733.6,197.8 732.7,196.3 731.8,198.2 730.9,194.9 730,195.4 729.1,197.6 728.2,196 727.3,195.8 726.4,195.9 725.5,195" fill="#ff0000" fill-opacity="1.0"/>
</g>
<g clip-path="url(#cb0)">
<polyline points="47.5,537.3 57,537.3" fill="none" stroke="#ff4040" stroke-width="1.1" stroke-opacity="1.0" stroke-linejoin="round"/>
<polygon points="57,537 60,521 63,506.7 66,480.4 68.5,467.5 71,456.4 74,444.7 80.1,422 91.8,396 100,385 108.4,378.8 108.4,514.4 95,518 80,524.2 70,528 60,535 57,537.3" fill="url(#spg)"/>
<path d="M57,537.3V537M59.3,535.5V524.5M61.7,533.8V513M64,532.2V497.9M66.3,530.6V478.6M68.7,528.9V466.7M71,527.6V456.3M73.4,526.7V447.2M75.7,525.8V438.4M78,524.9V429.7M80.4,524V421.4M82.7,523.1V416.2M85,522.1V411M87.4,521.2V405.8M89.7,520.2V400.6M92,519.2V395.7M94.4,518.3V392.5M96.7,517.5V389.4M99.1,516.9V386.3M101.4,516.3V384M103.7,515.7V382.2M106.1,515V380.5M108.4,514.4V378.8" stroke="#ff8a8a" stroke-width="1.5" fill="none"/>
<path d="M56.8,537.3V537.2M59.1,535.5V529.2M61.5,533.8V516.1M63.8,532.2V517.2M66.1,530.6V493.6M68.5,528.9V510.3M70.8,527.6V486.6M73.2,526.7V459.1M75.5,525.8V487.6M77.8,524.9V457.1M80.2,524V493.3M82.5,523.1V461.6M84.8,522.1V427.7M87.2,521.2V470.7M89.5,520.2V435M91.8,519.2V482.2M94.2,518.3V446M96.5,517.5V408.6M98.9,516.9V459.8M101.2,516.3V422M103.5,515.7V475.6M105.9,515V437.7M108.2,514.4V399.1" stroke="#ff2020" stroke-width="0.8" fill="none" stroke-opacity="0.9"/>
<polyline points="108.4,514.4 109.2,537.3 168.9,537.3" fill="none" stroke="#ff4040" stroke-width="1.1" stroke-opacity="1.0" stroke-linejoin="round"/>
</g>
<g clip-path="url(#cb1)">
<polyline points="185.9,537.3 192,537.3" fill="none" stroke="#ff4040" stroke-width="1.1" stroke-opacity="1.0" stroke-linejoin="round"/>
<polygon points="192,537 195,519 198,501 200.6,482.5 203,464.7 205.5,447.7 208,432.4 210,419.4 213.5,408.9 220.1,390 233.7,370 243,362 252.3,357 252.3,520.5 235.7,521.1 214.2,526 196.7,535.7 192,537.3" fill="url(#spg)"/>
<path d="M192,537.3V537M194.5,536.4V521.9M197,535.5V506.8M199.5,534.1V490.1M202.1,532.7V471.7M204.6,531.3V454.1M207.1,529.9V438.1M209.6,528.6V422.1M212.1,527.2V413.1M214.6,525.9V405.7M217.1,525.3V398.5M219.6,524.8V391.3M222.2,524.2V387M224.7,523.6V383.3M227.2,523V379.6M229.7,522.5V375.9M232.2,521.9V372.2M234.7,521.3V369.1M237.2,521V367M239.7,521V364.8M242.2,520.9V362.6M244.8,520.8V361.1M247.3,520.7V359.7M249.8,520.6V358.4M252.3,520.5V357" stroke="#ff8a8a" stroke-width="1.5" fill="none"/>
<path d="M191.8,537.3V537.2M194.3,536.4V528.1M196.8,535.5V511.2M199.3,534.1V514.8M201.9,532.7V489.3M204.4,531.3V508.2M206.9,529.9V477.1M209.4,528.6V438.1M211.9,527.2V477.3M214.4,525.9V440.3M216.9,525.3V487.3M219.4,524.8V448M222,524.2V407.6M224.5,523.6V462.2M227,523V420.8M229.5,522.5V478.5M232,521.9V435.8M234.5,521.3V392M237,521V453.6M239.5,521V409.7M242.1,520.9V473.4M244.6,520.8V428.9M247.1,520.7V383.8M249.6,520.6V449.6M252.1,520.5V404" stroke="#ff2020" stroke-width="0.8" fill="none" stroke-opacity="0.9"/>
<polyline points="252.3,520.5 253.1,537.3 323,537.3" fill="none" stroke="#ff4040" stroke-width="1.1" stroke-opacity="1.0" stroke-linejoin="round"/>
</g>
<g clip-path="url(#cb2)">
<polyline points="324.2,537.3 328.3,537.3" fill="none" stroke="#ff4040" stroke-width="1.1" stroke-opacity="1.0" stroke-linejoin="round"/>
<polygon points="328.3,537 331.4,506.2 335,459.5 341,417.5 347,378 359,349.2 371,339.1 384.9,337.2 384.9,523.7 360,526.6 340,531 328.3,537.3" fill="url(#spg)"/>
<path d="M328.3,537.3V537M330.7,536V513.6M333,534.8V485.2M335.4,533.5V456.9M337.7,532.2V440.4M340.1,531V423.9M342.4,530.5V408M344.8,529.9V392.4M347.2,529.4V377.6M349.5,528.9V371.9M351.9,528.4V366.3M354.2,527.9V360.6M356.6,527.3V355M359,526.8V349.3M361.3,526.4V347.3M363.7,526.2V345.3M366,525.9V343.3M368.4,525.6V341.3M370.8,525.3V339.3M373.1,525.1V338.8M375.5,524.8V338.5M377.8,524.5V338.2M380.2,524.2V337.8M382.5,524V337.5M384.9,523.7V337.2" stroke="#ff8a8a" stroke-width="1.5" fill="none"/>
<path d="M328.1,537.3V537.2M330.5,536V523.1M332.8,534.8V492.7M335.2,533.5V500M337.5,532.2V466.8M339.9,531V498.8M342.2,530.5V460M344.6,529.9V413.1M347,529.4V463M349.3,528.9V417.1M351.7,528.4V479.8M354,527.9V431.7M356.4,527.3V380.8M358.8,526.8V449.2M361.1,526.4V398.8M363.5,526.2V471.9M365.8,525.9V420.9M368.2,525.6V368.9M370.6,525.3V444M372.9,525.1V392.4M375.3,524.8V468.9M377.6,524.5V417.4M380,524.2V365.8M382.3,524V442.4M384.7,523.7V390.8" stroke="#ff2020" stroke-width="0.8" fill="none" stroke-opacity="0.9"/>
<polyline points="384.9,523.7 385.7,537.3 450,537.3" fill="none" stroke="#ff4040" stroke-width="1.1" stroke-opacity="1.0" stroke-linejoin="round"/>
</g>
<g clip-path="url(#cb3)">
<polyline points="461.5,537.3 467,537.3" fill="none" stroke="#ff4040" stroke-width="1.1" stroke-opacity="1.0" stroke-linejoin="round"/>
<polygon points="467,537 470,493.1 476.3,432.9 481.3,391.5 490.1,353.9 500.1,332.5 515.2,322.5 532.3,322 532.3,527 500,529.5 480,533 467,537.3" fill="url(#spg)"/>
<path d="M467,537.3V537M469.7,536.4V497.2M472.4,535.5V469.8M475.2,534.6V443.8M477.9,533.7V419.8M480.6,532.9V397.3M483.3,532.4V382.8M486,531.9V371.2M488.8,531.5V359.6M491.5,531V350.9M494.2,530.5V345.1M496.9,530V339.3M499.6,529.6V333.5M502.4,529.3V331M505.1,529.1V329.2M507.8,528.9V327.4M510.5,528.7V325.6M513.3,528.5V323.8M516,528.3V322.5M518.7,528.1V322.4M521.4,527.8V322.3M524.1,527.6V322.2M526.9,527.4V322.2M529.6,527.2V322.1M532.3,527V322" stroke="#ff8a8a" stroke-width="1.5" fill="none"/>
<path d="M466.8,537.3V537.2M469.5,536.4V513.9M472.2,535.5V479.6M475,534.6V494.9M477.7,533.7V452.5M480.4,532.9V492.2M483.1,532.4V446.4M485.8,531.9V395.3M488.6,531.5V456.3M491.3,531V402.7M494,530.5V474.9M496.7,530V420.4M499.4,529.6V362.9M502.2,529.3V442.6M504.9,529.1V386.7M507.6,528.9V468.4M510.3,528.7V411.9M513.1,528.5V354.5M515.8,528.3V438.2M518.5,528.1V381.5M521.2,527.8V466.2M523.9,527.6V409.5M526.7,527.4V352.9M529.4,527.2V437.5M532.1,527V380.9" stroke="#ff2020" stroke-width="0.8" fill="none" stroke-opacity="0.9"/>
<polyline points="532.3,527 533.1,537.3 599,537.3" fill="none" stroke="#ff4040" stroke-width="1.1" stroke-opacity="1.0" stroke-linejoin="round"/>
</g>
<g clip-path="url(#cb4)">
<polyline points="599.1,537.3 602.5,537.3" fill="none" stroke="#ff4040" stroke-width="1.1" stroke-opacity="1.0" stroke-linejoin="round"/>
<polygon points="602.5,537 605.2,510.2 609.3,452.8 613.4,409.2 622.9,350.5 635.2,324.6 651.6,313.1 670.1,313.6 670.1,527.9 620,533.4 602.5,537.3" fill="url(#spg)"/>
<path d="M602.5,537.3V537M605.3,536.7V508.6M608.1,536V469.1M611,535.4V435.3M613.8,534.8V406.9M616.6,534.2V389.5M619.4,533.5V372.1M622.2,533.2V354.7M625,532.8V346M627.9,532.5V340.1M630.7,532.2V334.1M633.5,531.9V328.2M636.3,531.6V323.8M639.1,531.3V321.9M641.9,531V319.9M644.8,530.7V317.9M647.6,530.4V315.9M650.4,530.1V314M653.2,529.8V313.1M656,529.4V313.2M658.8,529.1V313.3M661.6,528.8V313.4M664.5,528.5V313.4M667.3,528.2V313.5M670.1,527.9V313.6" stroke="#ff8a8a" stroke-width="1.5" fill="none"/>
<path d="M602.3,537.3V537.2M605.1,536.7V520.5M607.9,536V479.2M610.8,535.4V491.6M613.6,534.8V443.7M616.4,534.2V490.8M619.2,533.5V440.7M622,533.2V381.5M624.8,532.8V451.1M627.6,532.5V395.4M630.5,532.2V472.8M633.3,531.9V414.8M636.1,531.6V355M638.9,531.3V439.7M641.7,531V380.6M644.5,530.7V466.8M647.4,530.4V407.1M650.2,530.1V346.4M653,529.8V435M655.8,529.4V375.4M658.6,529.1V464.4M661.4,528.8V404.9M664.3,528.5V345.7M667.1,528.2V434.3M669.9,527.9V375.2" stroke="#ff2020" stroke-width="0.8" fill="none" stroke-opacity="0.9"/>
<polyline points="670.1,527.9 670.9,537.3 736,537.3" fill="none" stroke="#ff4040" stroke-width="1.1" stroke-opacity="1.0" stroke-linejoin="round"/>
</g>
<rect x="128.4" y="11.5" width="57" height="93.8" fill="#fff" stroke="#4e4e4e" stroke-width="1.1"/>
<path d="M130.5,96.5V105M136.6,96.5V105M142.9,96.5V105M149.3,96.5V105M155.7,96.5V105M162.1,96.5V105M168.4,96.5V105M174.5,96.5V105" stroke="#222" stroke-width="1.4" stroke-opacity="1.0" fill="none"/>
<rect x="268.4" y="11.5" width="55.3" height="92.4" fill="#fff" stroke="#4e4e4e" stroke-width="1.1"/>
<polyline points="268.6,93.2 270.4,94.7 272,92.4 273.8,90.4 275.5,91.9 277.5,88.9 279,88.5 281,90.5 282.3,91.4 284.4,89.3 286.3,86.6 287.5,87.9 288.7,86 290.2,84.9 291.8,86.2 293.9,85.9 295.7,85.3 297.6,84.5 299.1,86.5 301.3,85.1 303.2,82.2 304.6,81.7 305.9,83.4 307.5,83.3 309,80.8 312.5,84 314,95 315.7,104" fill="none" stroke="#222" stroke-width="1.15" stroke-linejoin="round"/>
<rect x="411" y="11.5" width="50" height="92.4" fill="#fff" stroke="#4e4e4e" stroke-width="1.1"/>
<path d="M411.5,103.5C411.6,102.7 412.6,96.5 413,95C413.4,93.5 415.2,87.8 415.9,88C416.6,88.2 419,97.7 419.9,97.4C420.8,97.1 423.8,85.1 424.7,84.8C425.6,84.5 427.5,94.5 428.4,94.2C429.2,93.9 432.3,82.2 433.2,81.9C434.1,81.6 436.4,91.8 437.2,91.5C438,91.2 440.4,79.5 441.2,79.2C442,78.9 444.4,88.4 445.2,88C445.9,87.6 448.1,75.9 448.7,75.5C449.3,75.1 451.1,82 451.5,84C451.9,86 452.7,93 453,95C453.3,97 454.4,102.7 454.6,103.5" fill="none" stroke="#222" stroke-width="1.05"/>
<rect x="544.3" y="11.5" width="54.3" height="92.5" fill="#fff" stroke="#4e4e4e" stroke-width="1.1"/>
<path d="M544.5,99.5C545.2,95.3 550.6,58.8 552,58C553.4,57.2 556.9,91.9 558.2,91.4C559.5,90.9 564.1,53.2 565.4,52.7C566.7,52.2 570.2,87.3 571.5,86.9C572.8,86.5 577.3,49.2 578.7,48.7C580.1,48.2 584.1,82 585.4,81.6C586.7,81.2 590.8,45.7 592.1,44.7C593.4,43.7 597.4,69.3 598,72" fill="none" stroke="#222" stroke-width="1.05"/>
<rect x="686.4" y="11.5" width="49.8" height="92.5" fill="#fff" stroke="#4e4e4e" stroke-width="1.1"/>
<path d="M686.6,63.4C686.9,66.2 689,93.9 690,91.4C691,88.9 695.4,38.7 696.7,38C698,37.3 701.6,85.1 702.9,84.8C704.2,84.5 708.4,35.1 709.6,34.6C710.9,34.1 714.2,80.4 715.4,80C716.6,79.6 720.4,31.3 721.6,30.8C722.8,30.3 726.3,75.7 727.5,75.4C728.7,75.1 732.8,31.8 733.6,28.2C734.5,24.6 735.8,38.3 736,39.4" fill="none" stroke="#222" stroke-width="1.05"/>
<rect x="131.5" y="292.6" width="53.9" height="91.4" fill="#fff" stroke="#4e4e4e" stroke-width="1.1"/>
<polyline points="131.8,374.1 132.3,374.1 133.1,374 133.9,373.4 134.7,372.3 135.5,370.6 136.3,368 137.1,364.7 137.9,360.5 138.7,355.4 139.5,360.1 140.3,363.9 141.1,367 141.9,369.3 142.7,370.9 143.5,371.9 144.3,372.4 145.1,372.5 145.1,372.5 145.9,372.3 146.7,371.7 147.5,370.3 148.3,368.1 149.1,365 149.9,360.9 150.7,355.7 151.5,349.3 152.3,355.7 153.2,360.9 154,365 154.8,368.1 155.7,370.3 156.5,371.7 157.3,372.3 158.2,372.5 158.2,372.5 159,372.3 159.8,371.5 160.6,369.8 161.5,367.1 162.3,363.3 163.1,358.3 164,352 164.8,344.2 165.6,352 166.5,358.3 167.3,363.3 168.2,367.1 169,369.8 169.8,371.5 170.7,372.3 171.5,372.5 171.5,372.5 172.3,372.3 173.2,371.3 174,369.3 174.8,366.1 175.7,361.6 176.5,355.7 177.4,348.1 178.2,338.9 179,347.4 179.9,354.4 180.7,359.9 181.5,364.1 182.4,367 183.2,368.9 184.1,369.8 184.9,370 185.1,370" fill="none" stroke="#222" stroke-width="1.15" stroke-linejoin="round"/>
<rect x="270.9" y="292.6" width="52.8" height="91.4" fill="#fff" stroke="#4e4e4e" stroke-width="1.1"/>
<polyline points="271.2,372.8 271.9,372.7 272.6,372 273.3,370.8 273.9,368.7 274.6,365.9 275.3,362.1 276,357.3 276.7,351.4 277.5,357.5 278.3,362.4 279.1,366.3 279.9,369.3 280.7,371.4 281.5,372.7 282.3,373.3 283.1,373.5 283.1,373.5 283.9,373.3 284.7,372.4 285.5,370.6 286.3,367.8 287.1,363.8 287.9,358.4 288.7,351.7 289.5,343.4 290.3,351.7 291.2,358.4 292,363.8 292.9,367.8 293.7,370.6 294.5,372.4 295.4,373.3 296.2,373.5 296.2,373.5 297,373.2 297.9,372.2 298.7,370 299.5,366.4 300.4,361.4 301.2,354.8 302.1,346.4 302.9,336.2 303.7,346.4 304.6,354.8 305.4,361.4 306.2,366.4 307.1,370 307.9,372.2 308.8,373.2 309.6,373.5 309.6,373.5 310.4,373.2 311.3,371.9 312.1,369.3 313,365.2 313.8,359.3 314.6,351.4 315.5,341.6 316.3,329.5 317.1,340.9 318,350.2 318.8,357.6 319.6,363.1 320.5,367.1 321.3,369.5 322.2,370.7 323,371 323.4,371" fill="none" stroke="#222" stroke-width="1.15" stroke-linejoin="round"/>
<rect x="408.8" y="292.6" width="52.2" height="91.4" fill="#fff" stroke="#4e4e4e" stroke-width="1.1"/>
<polyline points="409.1,369 412.4,369 413.1,368.8 413.8,367.9 414.5,366.2 415.3,363.4 416,359.4 416.7,354.2 417.5,347.5 418.2,339.4 418.9,348.2 419.7,355.4 420.4,361.1 421.1,365.4 421.9,368.5 422.6,370.3 423.3,371.3 424,371.5 424,371.5 424.8,371.2 425.5,370 426.2,367.6 427,363.6 427.7,358.1 428.4,350.7 429.2,341.4 429.9,330 430.6,341.4 431.4,350.7 432.1,358.1 432.9,363.6 433.6,367.6 434.4,370 435.1,371.2 435.9,371.5 435.9,371.5 436.6,371.2 437.4,369.7 438.1,366.8 438.9,362 439.6,355.3 440.4,346.4 441.1,335.2 441.9,321.5 442.7,335.2 443.4,346.4 444.2,355.3 445,362 445.7,366.8 446.5,369.7 447.3,371.2 448,371.5 448,371.5 448.8,371.1 449.6,369.5 450.4,366.1 451.1,360.8 451.9,353.1 452.7,343.1 453.4,330.3 454.2,314.8 455,329.4 455.7,341.3 456.5,350.8 457.3,357.9 458,362.9 458.8,366.1 459.6,367.6 460.4,368 460.7,368" fill="none" stroke="#222" stroke-width="1.15" stroke-linejoin="round"/>
<rect x="549" y="292.6" width="49.6" height="91.4" fill="#fff" stroke="#4e4e4e" stroke-width="1.1"/>
<polyline points="549.3,372 550.5,372 551.2,371.8 551.9,370.9 552.6,369 553.3,366.1 554,361.9 554.8,356.3 555.5,349.3 556.2,340.7 556.9,349.4 557.6,356.6 558.4,362.2 559.1,366.5 559.8,369.5 560.5,371.4 561.2,372.3 562,372.5 562,372.5 562.7,372.2 563.4,371 564.1,368.4 564.8,364.4 565.5,358.6 566.3,350.9 567,341.3 567.7,329.5 568.4,341.3 569.2,350.9 569.9,358.6 570.6,364.4 571.4,368.4 572.1,371 572.8,372.2 573.5,372.5 573.5,372.5 574.3,372.1 575,370.6 575.7,367.5 576.5,362.4 577.2,355.3 577.9,345.9 578.7,334 579.4,319.4 580.1,334 580.8,345.9 581.6,355.3 582.3,362.4 583,367.5 583.7,370.6 584.4,372.1 585.1,372.5 585.1,372.5 585.9,372.1 586.6,370.3 587.3,366.6 588,360.7 588.7,352.3 589.5,341.2 590.2,327.1 590.9,310 591.6,325.4 592.3,337.9 593.1,347.9 593.8,355.4 594.5,360.7 595.2,364 595.9,365.6 596.6,366 598.3,366" fill="none" stroke="#222" stroke-width="1.15" stroke-linejoin="round"/>
<rect x="681.2" y="292.6" width="55" height="91.2" fill="#fff" stroke="#4e4e4e" stroke-width="1.1"/>
<polyline points="681.5,372.6 682.3,372.3 683.1,371.2 684,369 684.8,365.4 685.6,360.4 686.5,353.6 687.3,345.2 688.1,334.8 689,345.2 689.8,353.6 690.7,360.4 691.5,365.4 692.4,369 693.3,371.2 694.1,372.3 695,372.6 695,372.6 695.9,372.3 696.7,370.8 697.6,367.8 698.5,363 699.3,356.2 700.2,347.1 701,335.7 701.9,321.8 702.8,335.7 703.6,347.1 704.5,356.2 705.4,363 706.2,367.8 707.1,370.8 708,372.3 708.8,372.6 708.8,372.6 709.7,372.2 710.6,370.4 711.5,366.8 712.3,361.1 713.2,353 714.1,342.2 714.9,328.5 715.8,311.9 716.7,328.5 717.5,342.2 718.4,353 719.3,361.1 720.1,366.8 721,370.4 721.9,372.2 722.8,372.6 722.8,372.6 723.6,372.1 724.5,370.1 725.4,366 726.2,359.5 727.1,350.2 728,338 728.8,322.4 729.7,303.5 730.5,321.2 731.2,335.7 732,347.1 732.8,355.8 733.6,361.9 734.4,365.7 735.1,367.6 735.9,368" fill="none" stroke="#222" stroke-width="1.15" stroke-linejoin="round"/>
<rect x="125.5" y="157.7" width="17.1" height="27.3" fill="none" stroke="#111" stroke-width="2" stroke-dasharray="1.9,1.6"/>
<rect x="245.2" y="118.7" width="17.4" height="27.1" fill="none" stroke="#111" stroke-width="2" stroke-dasharray="1.9,1.6"/>
<rect x="388.8" y="74.5" width="16.2" height="26.7" fill="none" stroke="#111" stroke-width="2" stroke-dasharray="1.9,1.6"/>
<rect x="475.9" y="108.4" width="16.2" height="27.6" fill="none" stroke="#111" stroke-width="2" stroke-dasharray="1.9,1.6"/>
<rect x="607.6" y="105.6" width="16.4" height="27.1" fill="none" stroke="#111" stroke-width="2" stroke-dasharray="1.9,1.6"/>
<path d="M130.5,147 C133,138 136,128 140.6,125.6 C144,124 145,136 147.6,137 C150,137 152,129 155,122" fill="none" stroke="#111" stroke-width="2" stroke-dasharray="1.9,1.6"/>
<polygon points="158.6,115.5 149.5,121.5 154,122.5 156,127.5" fill="#111"/>
<path d="M67.4,451 L73.9,379.7 L79.8,336 C80.8,329 83.3,328 84.5,336 L89.5,362 C91,370 94.5,372 99,369 L121,356" fill="none" stroke="#111" stroke-width="2" stroke-dasharray="1.9,1.6"/>
<polygon points="127.8,350.4 115.3,351.2 120,355 120.8,361.5" fill="#111"/>
<text transform="translate(47,271.3) scale(1,1.12)" font-size="12.6" text-anchor="middle" font-weight="bold" fill="#000" >0</text>
<text transform="translate(96.5,271.3) scale(1,1.12)" font-size="12.6" text-anchor="middle" font-weight="bold" fill="#000" >5</text>
<text transform="translate(146,271.3) scale(1,1.12)" font-size="12.6" text-anchor="middle" font-weight="bold" fill="#000" >10</text>
<text transform="translate(47,552.8) scale(1,1.12)" font-size="12.6" text-anchor="middle" font-weight="bold" fill="#000" >0</text>
<text transform="translate(104.7,552.8) scale(1,1.12)" font-size="12.6" text-anchor="middle" font-weight="bold" fill="#000" >50</text>
<text transform="translate(162.3,552.8) scale(1,1.12)" font-size="12.6" text-anchor="middle" font-weight="bold" fill="#000" >100</text>
<text transform="translate(185.4,271.3) scale(1,1.12)" font-size="12.6" text-anchor="middle" font-weight="bold" fill="#000" >0</text>
<text transform="translate(223.9,271.3) scale(1,1.12)" font-size="12.6" text-anchor="middle" font-weight="bold" fill="#000" >5</text>
<text transform="translate(262.4,271.3) scale(1,1.12)" font-size="12.6" text-anchor="middle" font-weight="bold" fill="#000" >10</text>
<text transform="translate(300.9,271.3) scale(1,1.12)" font-size="12.6" text-anchor="middle" font-weight="bold" fill="#000" >15</text>
<text transform="translate(185.4,552.8) scale(1,1.12)" font-size="12.6" text-anchor="middle" font-weight="bold" fill="#000" >0</text>
<text transform="translate(236.3,552.8) scale(1,1.12)" font-size="12.6" text-anchor="middle" font-weight="bold" fill="#000" >50</text>
<text transform="translate(287.2,552.8) scale(1,1.12)" font-size="12.6" text-anchor="middle" font-weight="bold" fill="#000" >100</text>
<text transform="translate(323.7,271.3) scale(1,1.12)" font-size="12.6" text-anchor="middle" font-weight="bold" fill="#000" >0</text>
<text transform="translate(376.4,271.3) scale(1,1.12)" font-size="12.6" text-anchor="middle" font-weight="bold" fill="#000" >10</text>
<text transform="translate(429.1,271.3) scale(1,1.12)" font-size="12.6" text-anchor="middle" font-weight="bold" fill="#000" >20</text>
<text transform="translate(323.7,552.8) scale(1,1.12)" font-size="12.6" text-anchor="middle" font-weight="bold" fill="#000" >0</text>
<text transform="translate(362.7,552.8) scale(1,1.12)" font-size="12.6" text-anchor="middle" font-weight="bold" fill="#000" >50</text>
<text transform="translate(401.7,552.8) scale(1,1.12)" font-size="12.6" text-anchor="middle" font-weight="bold" fill="#000" >100</text>
<text transform="translate(440.7,552.8) scale(1,1.12)" font-size="12.6" text-anchor="middle" font-weight="bold" fill="#000" >150</text>
<text transform="translate(461,271.3) scale(1,1.12)" font-size="12.6" text-anchor="middle" font-weight="bold" fill="#000" >0</text>
<text transform="translate(503,271.3) scale(1,1.12)" font-size="12.6" text-anchor="middle" font-weight="bold" fill="#000" >20</text>
<text transform="translate(545,271.3) scale(1,1.12)" font-size="12.6" text-anchor="middle" font-weight="bold" fill="#000" >40</text>
<text transform="translate(587,271.3) scale(1,1.12)" font-size="12.6" text-anchor="middle" font-weight="bold" fill="#000" >60</text>
<text transform="translate(461,552.8) scale(1,1.12)" font-size="12.6" text-anchor="middle" font-weight="bold" fill="#000" >0</text>
<text transform="translate(500,552.8) scale(1,1.12)" font-size="12.6" text-anchor="middle" font-weight="bold" fill="#000" >50</text>
<text transform="translate(539,552.8) scale(1,1.12)" font-size="12.6" text-anchor="middle" font-weight="bold" fill="#000" >100</text>
<text transform="translate(578,552.8) scale(1,1.12)" font-size="12.6" text-anchor="middle" font-weight="bold" fill="#000" >150</text>
<text transform="translate(598.6,271.3) scale(1,1.12)" font-size="12.6" text-anchor="middle" font-weight="bold" fill="#000" >0</text>
<text transform="translate(630.4,271.3) scale(1,1.12)" font-size="12.6" text-anchor="middle" font-weight="bold" fill="#000" >20</text>
<text transform="translate(662.2,271.3) scale(1,1.12)" font-size="12.6" text-anchor="middle" font-weight="bold" fill="#000" >40</text>
<text transform="translate(694,271.3) scale(1,1.12)" font-size="12.6" text-anchor="middle" font-weight="bold" fill="#000" >60</text>
<text transform="translate(725.8,271.3) scale(1,1.12)" font-size="12.6" text-anchor="middle" font-weight="bold" fill="#000" >80</text>
<text transform="translate(598.6,552.8) scale(1,1.12)" font-size="12.6" text-anchor="middle" font-weight="bold" fill="#000" >0</text>
<text transform="translate(632.8,552.8) scale(1,1.12)" font-size="12.6" text-anchor="middle" font-weight="bold" fill="#000" >50</text>
<text transform="translate(667,552.8) scale(1,1.12)" font-size="12.6" text-anchor="middle" font-weight="bold" fill="#000" >100</text>
<text transform="translate(701.2,552.8) scale(1,1.12)" font-size="12.6" text-anchor="middle" font-weight="bold" fill="#000" >150</text>
<text transform="translate(735.4,552.8) scale(1,1.12)" font-size="12.6" text-anchor="middle" font-weight="bold" fill="#000" >200</text>
<text transform="translate(43.3,58.9) scale(1,1.15)" font-size="12.5" text-anchor="end" font-weight="bold">10<tspan font-size="8" dy="-5">-4</tspan></text>
<text transform="translate(43.3,106.8) scale(1,1.15)" font-size="12.5" text-anchor="end" font-weight="bold">10<tspan font-size="8" dy="-5">-5</tspan></text>
<text transform="translate(43.3,154.7) scale(1,1.15)" font-size="12.5" text-anchor="end" font-weight="bold">10<tspan font-size="8" dy="-5">-6</tspan></text>
<text transform="translate(43.3,202.6) scale(1,1.15)" font-size="12.5" text-anchor="end" font-weight="bold">10<tspan font-size="8" dy="-5">-7</tspan></text>
<text transform="translate(43.3,250.5) scale(1,1.15)" font-size="12.5" text-anchor="end" font-weight="bold">10<tspan font-size="8" dy="-5">-8</tspan></text>
<text transform="translate(43.3,541.9) scale(1,1.15)" font-size="12.5" text-anchor="end" font-weight="bold" fill="#000" >0</text>
<text transform="translate(43.3,504.2) scale(1,1.15)" font-size="12.5" text-anchor="end" font-weight="bold" fill="#000" >100</text>
<text transform="translate(43.3,466.5) scale(1,1.15)" font-size="12.5" text-anchor="end" font-weight="bold" fill="#000" >200</text>
<text transform="translate(43.3,428.8) scale(1,1.15)" font-size="12.5" text-anchor="end" font-weight="bold" fill="#000" >300</text>
<text transform="translate(43.3,391.1) scale(1,1.15)" font-size="12.5" text-anchor="end" font-weight="bold" fill="#000" >400</text>
<text transform="translate(43.3,353.4) scale(1,1.15)" font-size="12.5" text-anchor="end" font-weight="bold" fill="#000" >500</text>
<text transform="translate(43.3,315.7) scale(1,1.15)" font-size="12.5" text-anchor="end" font-weight="bold" fill="#000" >600</text>
<text x="4.6" y="21.6" font-size="30" text-anchor="start" font-weight="bold" fill="#000" >(a)</text>
<text transform="translate(15.3,138.3) rotate(-90)" font-size="19" text-anchor="middle" font-weight="bold">&#8211; Postsynaptic current (A)</text>
<text transform="translate(16.2,428.8) rotate(-90)" font-size="19" text-anchor="middle" font-weight="bold">&#8211; Postsynaptic current (&#956;A)</text>
<text x="391.6" y="575.6" font-size="19" text-anchor="middle" font-weight="bold" fill="#000" >Time (Sec)</text>
<text transform="translate(52.9,27.8) scale(1,0.9)" font-size="17.3" font-weight="bold" fill="#0000ff">50 ms (<tspan font-style="italic">t</tspan><tspan font-size="11.5" dy="4">w</tspan><tspan dy="-4">)</tspan></text>
<text x="56.5" y="62.6" font-size="16.3" font-weight="bold" fill="#0000ff"><tspan font-style="italic">V</tspan><tspan font-size="10.5" dy="3.5">G</tspan><tspan dy="-3.5"> =</tspan></text>
<text x="61" y="82.4" font-size="16.3" font-weight="bold" fill="#0000ff">&#8211;3V (W)</text>
<text x="61" y="100.6" font-size="16.3" font-weight="bold" fill="#0000ff">+3V (E)</text>
<text transform="translate(190,28) scale(1,0.88)" font-size="17.6" font-weight="bold" fill="#0000ff">100 ms</text>
<text x="194.5" y="63.1" font-size="16.3" font-weight="bold" fill="#0000ff"><tspan font-style="italic">V</tspan><tspan font-size="10.5" dy="3.5">D</tspan><tspan dy="-3.5"> =</tspan></text>
<text x="195.2" y="82.3" font-size="16.3" font-weight="bold" fill="#0000ff">&#8211; 0.5V (R)</text>
<text transform="translate(328.2,28) scale(1,0.88)" font-size="17.6" font-weight="bold" fill="#0000ff">250 ms</text>
<text transform="translate(466,28) scale(1,0.88)" font-size="17.6" font-weight="bold" fill="#0000ff">500 ms</text>
<text transform="translate(606.3,28) scale(1,0.88)" font-size="17.6" font-weight="bold" fill="#0000ff">750 ms</text>
<text transform="translate(52,309.2) scale(1,0.88)" font-size="17.6" font-weight="bold" fill="#0000ff">1000 ms</text>
<text transform="translate(190.1,309.2) scale(1,0.88)" font-size="17.6" font-weight="bold" fill="#0000ff">1250 ms</text>
<text transform="translate(328,309.2) scale(1,0.88)" font-size="17.6" font-weight="bold" fill="#0000ff">1500 ms</text>
<text transform="translate(466.9,309.2) scale(1,0.88)" font-size="17.6" font-weight="bold" fill="#0000ff">1750 ms</text>
<text transform="translate(606.4,309.2) scale(1,0.88)" font-size="17.6" font-weight="bold" fill="#0000ff">2000 ms</text>
<text transform="translate(176.9,604.3) scale(1,0.94)" font-size="26" text-anchor="middle" font-weight="bold" fill="#000" >(b)</text>
<text transform="translate(541.7,605.3) scale(1,0.97)" font-size="27.5" text-anchor="middle" font-weight="bold" fill="#000" >(c)</text>
<line x1="34" y1="618.2" x2="335.6" y2="618.2" stroke="#555" stroke-width="1.0"/>
<line x1="45" y1="617.3" x2="47.8" y2="821.1" stroke="#c4c4c4" stroke-width="0.9"/>
<line x1="94.1" y1="617.3" x2="96.3" y2="818.4" stroke="#c4c4c4" stroke-width="0.9"/>
<line x1="143.2" y1="617.3" x2="144.7" y2="815.8" stroke="#c4c4c4" stroke-width="0.9"/>
<line x1="191.5" y1="617.3" x2="192.3" y2="813.1" stroke="#c4c4c4" stroke-width="0.9"/>
<line x1="248.8" y1="617.3" x2="248.8" y2="810" stroke="#c4c4c4" stroke-width="0.9"/>
<line x1="256.5" y1="617.3" x2="256.5" y2="814.2" stroke="#c4c4c4" stroke-width="0.9"/>
<line x1="272.8" y1="617.3" x2="272.8" y2="823" stroke="#c4c4c4" stroke-width="0.9"/>
<line x1="291.8" y1="617.3" x2="291.8" y2="833.2" stroke="#c4c4c4" stroke-width="0.9"/>
<line x1="313.5" y1="617.3" x2="313.5" y2="845" stroke="#c4c4c4" stroke-width="0.9"/>
<line x1="334.3" y1="617.3" x2="334.3" y2="856.2" stroke="#c4c4c4" stroke-width="0.9"/>
<line x1="35.5" y1="722.4" x2="248.8" y2="716.4" stroke="#c4c4c4" stroke-width="0.9"/>
<line x1="248.8" y1="716.4" x2="334.3" y2="740.1" stroke="#c4c4c4" stroke-width="0.9"/>
<line x1="45.4" y1="831.8" x2="265.9" y2="819.2" stroke="#a8a8a8" stroke-width="0.9"/>
<line x1="55.4" y1="844.4" x2="287.3" y2="830.8" stroke="#a8a8a8" stroke-width="0.9"/>
<line x1="65.4" y1="857" x2="308.6" y2="842.3" stroke="#a8a8a8" stroke-width="0.9"/>
<line x1="150.5" y1="867.6" x2="97.6" y2="818.4" stroke="#a8a8a8" stroke-width="0.9"/>
<line x1="212" y1="863.8" x2="148.2" y2="815.6" stroke="#a8a8a8" stroke-width="0.9"/>
<line x1="272.5" y1="860" x2="197.9" y2="812.8" stroke="#a8a8a8" stroke-width="0.9"/>
<line x1="37.4" y1="821.7" x2="248.8" y2="810" stroke="#aaa" stroke-width="0.9"/>
<line x1="248.8" y1="810" x2="334.3" y2="856.2" stroke="#888" stroke-width="0.9"/>
<line x1="34" y1="619.6" x2="37.4" y2="821.7" stroke="#222" stroke-width="1.2"/>
<line x1="37.4" y1="821.7" x2="77.4" y2="872.1" stroke="#222" stroke-width="1.2"/>
<line x1="77.4" y1="872.1" x2="334.3" y2="856.2" stroke="#222" stroke-width="1.2"/>
<path d="M36.9,794.1h2.2M36.6,776h2.2M36.4,763.1h2.2M36.2,753.1h2.2M36.1,745h2.2M36,738.1h2.2M35.9,732.2h2.2M35.8,726.9h2.2M35.7,722.2h3.5M35.2,691.3h2.2M34.9,673.2h2.2M34.7,660.3h2.2M34.5,650.3h2.2M34.4,642.2h2.2M34.3,635.3h2.2M34.2,629.4h2.2M34.1,624.1h2.2M34,619.6h3.5" stroke="#222" stroke-width="1" fill="none"/>
<path d="M40.6,825.7l6,-0.3M45.2,831.5l3.5,-0.2M49.8,837.3l6,-0.3M54.4,843.1l3.5,-0.2M59,848.9l6,-0.3M63.6,854.7l3.5,-0.2M68.2,860.5l6,-0.3M72.8,866.3l3.5,-0.2M77.4,872.1l6,-0.3" stroke="#222" stroke-width="1" fill="none"/>
<defs><clipPath id="surfb"><polygon points="48.6,676.4 52.1,676.1 55.7,675.8 59.2,675.5 62.8,675.1 66.3,674.8 69.9,674.5 73.4,674.3 77,674.1 80.5,673.9 84.1,673.7 87.6,673.4 91.2,673.2 94.7,673 98.3,672.9 101.8,672.7 105.4,672.6 109,672.4 112.5,672.3 116.1,672.2 119.6,672 123.2,671.7 126.7,671.5 130.3,671.2 133.8,670.9 137.4,670.6 140.9,670.3 144.5,670 148,669.7 151.5,669.4 155.1,669.2 158.6,668.9 162.2,668.6 165.7,668.3 169.3,668 172.8,667.3 176.2,666.5 179.7,665.8 183.2,665 186.7,664.3 190.2,663.6 193.6,662.8 197.1,662.1 200.4,660.7 203.7,659.3 207,657.9 210.2,656.5 213.5,655.1 216.8,653.7 219.7,651.7 222.5,649.6 224.8,646.9 227.1,644.1 229.3,641.4 231.6,638.6 233.8,635.8 236,633.1 238.3,630.3 240.5,627.5 242.8,624.8 245,622 245,622 246.1,623.4 247.3,624.8 248.4,626.3 249.5,627.7 250.7,629.1 251.8,630.5 252.9,631.9 254.1,633.4 255.2,634.8 256.3,636.2 257.5,637.6 258.6,639 259.7,640.4 260.9,641.9 262,643.3 263.1,644.7 264.3,646.1 265.4,647.5 266.5,649 267.7,650.4 268.8,651.8 269.9,653.3 271,654.7 272.1,656.2 273.2,657.6 274.3,659.1 275.4,660.5 276.5,661.9 277.6,663.4 278.7,664.8 279.8,666.3 280.5,667.9 280.9,669.7 281.4,671.4 281.9,673.2 282.3,674.9 282.8,676.7 283.2,678.5 283.7,680.2 284.2,682 284.6,683.7 285.1,685.5 285.5,687.2 286,689 286.4,690.8 286.9,692.5 287.4,694.3 287.8,696 288.3,697.8 288.8,699.5 289.3,701.3 289.8,703 290.3,704.8 290.8,706.5 292.3,707.3 294.1,707.8 295.8,708.4 297.5,708.9 299.3,709.5 301,710 301,710 298,713.3 295.1,716.7 292.1,720 289.2,723.3 286.2,726.7 283.3,730 280.3,733.3 276.5,735.6 272.6,737.7 268.7,739.9 265.4,742.8 262.1,745.9 258.9,748.9 255.7,752 252.4,755 249.2,758.1 245.9,761.1 243,764.4 240.1,767.8 237.7,771.5 235.8,775.5 233.8,779.6 231.9,783.6 230,787.6 228.1,791.6 226.1,795.6 224.2,799.6 221.8,803 217.4,803.9 213.1,804.9 208.7,805.8 204.4,806.7 200,807.7 195.7,808.6 191.3,809.6 187,810.5 182.6,811.4 178.3,812.5 174,813.8 169.8,815.2 165.5,816.5 161.3,817.8 157,819.1 152.8,820.4 148.4,821.4 144.1,822.4 139.7,823.3 135.4,824.4 131.2,825.7 126.8,826.3 122.3,826.6 117.9,827 113.5,827.4 109,827.7 104.6,828.3 100.3,829.4 96,830.4 91.6,830.4 87.1,829.9 82.7,829.4 82.7,829.4 82.3,826.8 81.8,824.2 81.4,821.7 80.9,819.1 80.5,816.5 80,813.9 79.6,811.4 79.2,808.8 78.7,806.2 78.3,803.6 77.8,801 77.4,798.5 77,795.9 76.5,793.3 76.1,790.7 75.6,788.2 75.2,785.6 74.7,783 74.3,780.4 73.9,777.8 73.4,775.3 73,772.7 72.5,770.1 72.1,767.5 71.7,765 71.2,762.4 70.7,759.8 70,757.3 69.4,754.8 68.7,752.2 68,749.7 67.3,747.2 66.6,744.7 65.9,742.2 65.2,739.6 64.5,737.1 63.8,734.6 63.1,732.1 62.4,729.6 61.7,727 61.1,724.5 60.5,722 59.8,719.4 59.2,716.9 58.5,714.4 57.9,711.8 57.2,709.3 56.6,706.7 55.9,704.2 55.3,701.7 54.7,699.1 54,696.6 53.4,694.1 52.7,691.6 52,689 51.3,686.5 50.6,684 50,681.5 49.3,678.9 48.6,676.4"/></clipPath></defs>
<g clip-path="url(#surfb)">
<polygon points="40,600 320,600 320,649.4 40,649.4" fill="#ff0000" fill-opacity="1.0"/>
<polygon points="40,649.4 320,649.4 320,696.5 200,693 40,693.5" fill="#ff80ff" fill-opacity="1.0"/>
<polygon points="40,693.5 200,693 320,696.5 320,731 200,729.5 40,733" fill="#ffff00" fill-opacity="1.0"/>
<polygon points="40,733 200,729.5 320,731 320,771 40,769.2" fill="#00a000" fill-opacity="1.0"/>
<polygon points="40,769.2 320,771 320,900 40,900" fill="#00ffff" fill-opacity="1.0"/>
<polygon points="80,826.3 94.7,827.6 108,825.3 108,840 80,840" fill="#0000ff" fill-opacity="1.0"/>
<path d="M48.6,676.4 L50.6,684 L52.7,691.6 L54.6,699.1 L56.6,706.7 L58.5,714.3 L60.5,721.9 L62.5,729.5 L64.5,737.1 L66.6,744.7 L68.5,752.3 L70.2,759.9 L71.8,767.6 L73.3,775.3 L74.7,783 L76.1,790.7 L77.4,798.5 L78.7,806.2 L80,813.9 L81.4,821.7 L82.7,829.4M58.2,675.6 L60.3,683.1 L62.4,690.7 L64.5,698.3 L66.6,705.9 L68.7,713.5 L70.7,721.1 L72.8,728.7 L75,736.2 L77.1,743.8 L79.2,751.4 L81,759.1 L82.6,766.8 L84.2,774.5 L85.7,782.3 L87.1,790.1 L88.5,797.8 L89.9,805.6 L91.4,813.3 L92.9,821 L94.4,828.7M67.7,674.7 L70,682.3 L72.2,689.9 L74.4,697.4 L76.6,705 L78.8,712.6 L81,720.2 L83.2,727.8 L85.5,735.3 L87.7,742.9 L89.9,750.5 L91.8,758.2 L93.5,765.9 L95.1,773.7 L96.6,781.4 L98.1,789.2 L99.6,797 L101.1,804.7 L102.7,812.4 L104.4,820.1 L106,827.8M77.3,674.1 L79.7,681.6 L82,689.1 L84.4,696.6 L86.7,704.2 L88.9,711.7 L91.2,719.3 L93.6,726.8 L95.9,734.3 L98.3,741.9 L100.5,749.4 L102.5,757.1 L104.3,764.8 L106,772.6 L107.5,780.3 L109.1,788.1 L110.7,795.9 L112.3,803.6 L114,811.3 L115.9,818.9 L117.7,826.5M86.9,673.5 L89.4,680.9 L91.8,688.4 L94.3,695.9 L96.7,703.3 L99.1,710.8 L101.5,718.3 L103.9,725.8 L106.4,733.2 L108.9,740.7 L111.2,748.2 L113.2,755.9 L115.1,763.5 L116.8,771.3 L118.4,779 L120.1,786.8 L121.7,794.5 L123.4,802.2 L125.3,809.8 L127.3,817.3 L129.2,824.8M96.5,673 L99,680.3 L101.6,687.7 L104.2,695.1 L106.7,702.4 L109.2,709.8 L111.7,717.2 L114.2,724.6 L116.8,731.9 L119.4,739.3 L121.8,746.8 L123.9,754.3 L125.8,761.9 L127.6,769.6 L129.3,777.3 L130.9,784.9 L132.6,792.6 L134.5,800.2 L136.4,807.7 L138.6,815.1 L140.7,822.5M112.4,672.3 L115.2,679.4 L117.9,686.5 L120.6,693.7 L123.3,700.8 L126,708 L128.6,715.2 L131.3,722.3 L134.1,729.5 L136.8,736.6 L139.3,743.9 L141.5,751.2 L143.5,758.7 L145.4,766.2 L147.1,773.7 L148.9,781.2 L150.7,788.7 L152.7,796.1 L154.8,803.4 L157.2,810.5 L159.6,817.7M129.5,671.2 L132.4,678.1 L135.3,684.9 L138.1,691.8 L141,698.7 L143.8,705.6 L146.7,712.5 L149.5,719.4 L152.4,726.3 L155.3,733.2 L157.9,740.3 L160.3,747.4 L162.4,754.7 L164.3,762 L166.1,769.3 L167.9,776.7 L169.8,783.9 L171.9,791.1 L174.3,798.2 L176.9,805 L179.6,811.8M148.6,669.7 L151.7,676.3 L154.7,682.8 L157.8,689.4 L160.8,696 L163.8,702.6 L166.8,709.2 L169.9,715.8 L172.9,722.4 L176,729 L178.7,735.7 L181.2,742.7 L183.4,749.7 L185.4,756.7 L187.2,763.8 L189.1,770.9 L191.1,777.9 L193.4,784.9 L196,791.6 L198.9,798.1 L201.8,804.5M169.8,667.4 L172.9,673.3 L176,679.3 L179.1,685.3 L182.2,691.3 L185.3,697.3 L188.4,703.3 L191.5,709.3 L194.6,715.3 L197.6,721.3 L200.4,727.6 L202.9,733.9 L205,740.4 L207,746.9 L208.7,753.5 L210.6,760.1 L212.6,766.6 L214.9,773 L217.5,779.2 L220.6,785 L223.7,790.8M192.8,662.7 L195.8,667.9 L198.7,673 L201.7,678.2 L204.6,683.3 L207.5,688.5 L210.5,693.7 L213.4,698.8 L216.3,704 L219.2,709.2 L221.8,714.6 L224,720.2 L225.9,725.9 L227.6,731.7 L229.1,737.6 L230.6,743.4 L232.4,749.1 L234.5,754.7 L237.1,760 L240.2,764.9 L243.2,769.8M216.6,653.5 L219.5,657.9 L222.3,662.4 L225.1,666.8 L228,671.2 L230.8,675.7 L233.6,680.1 L236.4,684.6 L239.2,689.1 L242,693.5 L244.4,698.3 L246.4,703.2 L248.1,708.3 L249.5,713.4 L250.7,718.7 L252,723.9 L253.6,729 L255.5,733.9 L258,738.5 L261.1,742.6 L264.2,746.7M231.6,638.6 L234.6,642.8 L237.6,647 L240.6,651.3 L243.7,655.5 L246.7,659.7 L249.7,664 L252.6,668.2 L255.6,672.5 L258.6,676.8 L261.1,681.4 L263.2,686.1 L265,691.1 L266.5,696.1 L267.7,701.2 L269.1,706.3 L270.8,711.3 L272.9,716.1 L275.6,720.5 L279,724.3 L282.4,728.2M245,622 L248.3,626.1 L251.6,630.3 L254.9,634.4 L258.2,638.5 L261.5,642.7 L264.8,646.8 L268,651 L271.3,655.1 L274.5,659.3 L277.3,663.8 L279.6,668.6 L281.6,673.5 L283.2,678.5 L284.6,683.6 L286.1,688.7 L288,693.6 L290.4,698.3 L293.4,702.6 L297.2,706.3 L301,710M48.6,676.4 L55.7,675.8 L62.8,675.1 L69.9,674.6 L76.9,674.1 L84,673.7 L91.1,673.3 L98.2,672.9 L105.3,672.6 L112.4,672.3 L119.5,671.9 L126.6,671.4 L133.7,670.9 L140.8,670.3 L147.9,669.7 L155,669.1 L162,668.4 L169.1,667.4 L176.1,666.4 L183.1,665.1 L190,663.4 L196.9,661.5 L203.6,659.3 L210.2,656.5 L216.6,653.5 L222.3,649.4 L227,644 L231.6,638.6 L236,633 L240.5,627.5 L245,622M52.7,691.6 L59.9,690.9 L67.2,690.3 L74.4,689.7 L81.7,689.1 L88.9,688.6 L96.2,688.1 L103.4,687.6 L110.7,687.1 L117.9,686.5 L125.1,685.9 L132.4,685.2 L139.6,684.5 L146.8,683.7 L154,682.9 L161.2,681.9 L168.3,680.8 L175.3,679.5 L182.3,677.9 L189.2,676 L196,673.9 L202.8,671.6 L209.4,668.8 L215.9,665.7 L222.3,662.4 L228,658 L232.9,652.6 L237.6,647 L242.3,641.4 L246.9,635.9 L251.6,630.3M56.6,706.7 L64,706.1 L71.4,705.5 L78.9,704.8 L86.3,704.2 L93.7,703.6 L101.1,703 L108.5,702.3 L115.9,701.6 L123.3,700.8 L130.7,700 L138,699.1 L145.4,698.2 L152.7,697.2 L160.1,696.1 L167.3,694.8 L174.5,693.3 L181.5,691.5 L188.4,689.4 L195.2,687 L201.9,684.4 L208.6,681.6 L215.2,678.5 L221.6,675 L228,671.2 L233.7,666.6 L238.8,661.1 L243.7,655.5 L248.5,649.8 L253.4,644.2 L258.2,638.5M61.3,725 L68.9,724.3 L76.5,723.7 L84.2,723 L91.8,722.3 L99.4,721.6 L107,720.8 L114.6,719.9 L122.2,719 L129.7,718 L137.3,716.9 L144.8,715.8 L152.3,714.6 L159.8,713.3 L167.3,712 L174.7,710.3 L181.9,708.3 L188.9,706 L195.7,703.2 L202.4,700.2 L209,697.1 L215.6,693.7 L222,690 L228.4,686 L234.7,681.9 L240.6,677 L245.8,671.4 L250.9,665.7 L255.9,659.9 L261,654.2 L266.1,648.5M66.1,743.2 L74,742.5 L81.8,741.9 L89.6,741.1 L97.4,740.4 L105.2,739.6 L113,738.6 L120.8,737.6 L128.5,736.4 L136.2,735.2 L143.9,733.9 L151.6,732.5 L159.3,731 L166.9,729.4 L174.6,727.8 L182.1,725.8 L189.3,723.4 L196.3,720.4 L203,717.1 L209.6,713.5 L216.1,709.7 L222.5,705.8 L228.9,701.6 L235.2,697.2 L241.4,692.6 L247.3,687.5 L252.7,681.7 L258,675.9 L263.3,670.1 L268.6,664.3 L273.9,658.5M70.5,761.5 L78.5,760.9 L86.5,760.2 L94.5,759.5 L102.5,758.7 L110.4,757.8 L118.4,756.8 L126.3,755.5 L134.1,754.2 L141.9,752.7 L149.8,751.2 L157.6,749.6 L165.4,747.9 L173.1,746.1 L180.9,744.2 L188.4,741.9 L195.7,739 L202.6,735.6 L209.1,731.6 L215.5,727.4 L221.9,723.1 L228.2,718.6 L234.4,714 L240.6,709.1 L246.8,704.2 L252.6,698.8 L258.1,693 L263.6,687.1 L269.1,681.3 L274.5,675.4 L280,669.5M74.7,783 L82.8,782.5 L90.9,781.9 L99,781.2 L107.1,780.4 L115.2,779.5 L123.3,778.3 L131.3,776.9 L139.2,775.4 L147.1,773.7 L155,771.9 L162.9,770.1 L170.8,768.2 L178.6,766.2 L186.4,764 L194,761.3 L201.2,758 L208,753.9 L214.3,749.3 L220.5,744.5 L226.6,739.6 L232.7,734.5 L238.7,729.3 L244.7,724 L250.7,718.7 L256.5,713.1 L262.1,707.1 L267.7,701.2 L273.3,695.4 L279,689.5 L284.6,683.6M78.7,806.2 L87,805.7 L95.3,805.2 L103.6,804.5 L111.9,803.7 L120.1,802.7 L128.3,801.4 L136.5,799.8 L144.6,798.1 L152.7,796.1 L160.7,794.1 L168.7,792 L176.7,789.8 L184.7,787.5 L192.6,785.1 L200.2,782 L207.5,778.1 L214.2,773.5 L220.3,768.1 L226.2,762.6 L232.2,757 L238,751.3 L243.8,745.6 L249.6,739.7 L255.5,733.9 L261.3,728 L267.1,722 L272.9,716.1 L278.7,710.1 L284.5,704.2 L290.4,698.3M82.7,829.4 L91.4,828.9 L100,828.3 L108.6,827.5 L117.2,826.5 L125.8,825.4 L134.4,823.9 L142.8,822 L151.2,819.9 L159.6,817.7 L167.9,815.3 L176.3,812.8 L184.5,810.3 L192.8,807.6 L201,804.8 L208.9,801.2 L216.3,796.7 L223.1,791.3 L229.1,785.1 L235,778.8 L240.9,772.4 L246.7,766 L252.5,759.5 L258.3,753.1 L264.2,746.7 L270.2,740.5 L276.3,734.3 L282.4,728.2 L288.6,722.1 L294.8,716.1 L301,710" stroke="#7a7a7a" stroke-width="0.75" fill="none"/>
</g>
<polygon points="48.6,676.4 52.1,676.1 55.7,675.8 59.2,675.5 62.8,675.1 66.3,674.8 69.9,674.5 73.4,674.3 77,674.1 80.5,673.9 84.1,673.7 87.6,673.4 91.2,673.2 94.7,673 98.3,672.9 101.8,672.7 105.4,672.6 109,672.4 112.5,672.3 116.1,672.2 119.6,672 123.2,671.7 126.7,671.5 130.3,671.2 133.8,670.9 137.4,670.6 140.9,670.3 144.5,670 148,669.7 151.5,669.4 155.1,669.2 158.6,668.9 162.2,668.6 165.7,668.3 169.3,668 172.8,667.3 176.2,666.5 179.7,665.8 183.2,665 186.7,664.3 190.2,663.6 193.6,662.8 197.1,662.1 200.4,660.7 203.7,659.3 207,657.9 210.2,656.5 213.5,655.1 216.8,653.7 219.7,651.7 222.5,649.6 224.8,646.9 227.1,644.1 229.3,641.4 231.6,638.6 233.8,635.8 236,633.1 238.3,630.3 240.5,627.5 242.8,624.8 245,622 245,622 246.1,623.4 247.3,624.8 248.4,626.3 249.5,627.7 250.7,629.1 251.8,630.5 252.9,631.9 254.1,633.4 255.2,634.8 256.3,636.2 257.5,637.6 258.6,639 259.7,640.4 260.9,641.9 262,643.3 263.1,644.7 264.3,646.1 265.4,647.5 266.5,649 267.7,650.4 268.8,651.8 269.9,653.3 271,654.7 272.1,656.2 273.2,657.6 274.3,659.1 275.4,660.5 276.5,661.9 277.6,663.4 278.7,664.8 279.8,666.3 280.5,667.9 280.9,669.7 281.4,671.4 281.9,673.2 282.3,674.9 282.8,676.7 283.2,678.5 283.7,680.2 284.2,682 284.6,683.7 285.1,685.5 285.5,687.2 286,689 286.4,690.8 286.9,692.5 287.4,694.3 287.8,696 288.3,697.8 288.8,699.5 289.3,701.3 289.8,703 290.3,704.8 290.8,706.5 292.3,707.3 294.1,707.8 295.8,708.4 297.5,708.9 299.3,709.5 301,710 301,710 298,713.3 295.1,716.7 292.1,720 289.2,723.3 286.2,726.7 283.3,730 280.3,733.3 276.5,735.6 272.6,737.7 268.7,739.9 265.4,742.8 262.1,745.9 258.9,748.9 255.7,752 252.4,755 249.2,758.1 245.9,761.1 243,764.4 240.1,767.8 237.7,771.5 235.8,775.5 233.8,779.6 231.9,783.6 230,787.6 228.1,791.6 226.1,795.6 224.2,799.6 221.8,803 217.4,803.9 213.1,804.9 208.7,805.8 204.4,806.7 200,807.7 195.7,808.6 191.3,809.6 187,810.5 182.6,811.4 178.3,812.5 174,813.8 169.8,815.2 165.5,816.5 161.3,817.8 157,819.1 152.8,820.4 148.4,821.4 144.1,822.4 139.7,823.3 135.4,824.4 131.2,825.7 126.8,826.3 122.3,826.6 117.9,827 113.5,827.4 109,827.7 104.6,828.3 100.3,829.4 96,830.4 91.6,830.4 87.1,829.9 82.7,829.4 82.7,829.4 82.3,826.8 81.8,824.2 81.4,821.7 80.9,819.1 80.5,816.5 80,813.9 79.6,811.4 79.2,808.8 78.7,806.2 78.3,803.6 77.8,801 77.4,798.5 77,795.9 76.5,793.3 76.1,790.7 75.6,788.2 75.2,785.6 74.7,783 74.3,780.4 73.9,777.8 73.4,775.3 73,772.7 72.5,770.1 72.1,767.5 71.7,765 71.2,762.4 70.7,759.8 70,757.3 69.4,754.8 68.7,752.2 68,749.7 67.3,747.2 66.6,744.7 65.9,742.2 65.2,739.6 64.5,737.1 63.8,734.6 63.1,732.1 62.4,729.6 61.7,727 61.1,724.5 60.5,722 59.8,719.4 59.2,716.9 58.5,714.4 57.9,711.8 57.2,709.3 56.6,706.7 55.9,704.2 55.3,701.7 54.7,699.1 54,696.6 53.4,694.1 52.7,691.6 52,689 51.3,686.5 50.6,684 50,681.5 49.3,678.9 48.6,676.4" fill="none" stroke="#707070" stroke-width="0.9"/>
<rect x="303" y="650" width="68" height="141.5" fill="#fff"/>
<rect x="314.8" y="676.1" width="16.1" height="15.2" fill="#ff0000"/>
<rect x="314.8" y="691" width="16.1" height="15.2" fill="#ff80ff"/>
<rect x="314.8" y="705.8" width="16.1" height="15.2" fill="#ffff00"/>
<rect x="314.8" y="720.7" width="16.1" height="15.2" fill="#00a000"/>
<rect x="314.8" y="735.5" width="16.1" height="15.2" fill="#00ffff"/>
<rect x="314.8" y="750.4" width="16.1" height="15.2" fill="#0000ff"/>
<rect x="314.8" y="765.3" width="16.1" height="15.2" fill="#000000"/>
<text transform="translate(335.2,681.8) scale(1,1.2)" font-size="13" text-anchor="start" font-weight="bold" fill="#000" >110.0</text>
<text transform="translate(335.2,696.6) scale(1,1.2)" font-size="13" text-anchor="start" font-weight="bold" fill="#000" >50.00</text>
<text transform="translate(335.2,711.4) scale(1,1.2)" font-size="13" text-anchor="start" font-weight="bold" fill="#000" >20.00</text>
<text transform="translate(335.2,726.2) scale(1,1.2)" font-size="13" text-anchor="start" font-weight="bold" fill="#000" >10.00</text>
<text transform="translate(335.2,741) scale(1,1.2)" font-size="13" text-anchor="start" font-weight="bold" fill="#000" >5.000</text>
<text transform="translate(335.2,755.8) scale(1,1.2)" font-size="13" text-anchor="start" font-weight="bold" fill="#000" >2.000</text>
<text transform="translate(335.2,770.6) scale(1,1.2)" font-size="13" text-anchor="start" font-weight="bold" fill="#000" >1.000</text>
<text transform="translate(33.3,624.8) scale(1,1.12)" font-size="13.8" text-anchor="end" font-weight="normal" fill="#000" >100</text>
<text transform="translate(33.3,727) scale(1,1.12)" font-size="13.8" text-anchor="end" font-weight="normal" fill="#000" >10</text>
<text transform="translate(36.9,832.4) scale(1,1.12)" font-size="11.1" text-anchor="end" font-weight="normal" fill="#000" >2.0</text>
<text transform="translate(44.3,842.4) scale(1,1.12)" font-size="11" text-anchor="end" font-weight="normal" fill="#000" >1.5</text>
<text transform="translate(52.9,853.7) scale(1,1.12)" font-size="11.6" text-anchor="end" font-weight="normal" fill="#000" >1.0</text>
<text transform="translate(62.3,866.4) scale(1,1.12)" font-size="12.8" text-anchor="end" font-weight="normal" fill="#000" >0.5</text>
<text transform="translate(73,880.4) scale(1,1.12)" font-size="13.3" text-anchor="end" font-weight="normal" fill="#000" >0.0</text>
<text transform="translate(90.8,883.3) scale(1,1.12)" font-size="13.3" text-anchor="middle" font-weight="normal" fill="#000" >25</text>
<text transform="translate(153.5,879.3) scale(1,1.12)" font-size="13.3" text-anchor="middle" font-weight="normal" fill="#000" >20</text>
<text transform="translate(214.7,875.9) scale(1,1.12)" font-size="13.3" text-anchor="middle" font-weight="normal" fill="#000" >15</text>
<text transform="translate(274.8,872.7) scale(1,1.12)" font-size="13.3" text-anchor="middle" font-weight="normal" fill="#000" >10</text>
<text transform="translate(328.2,868.7) scale(1,1.12)" font-size="13.3" text-anchor="middle" font-weight="normal" fill="#000" >5</text>
<text transform="translate(13.4,728.5) rotate(-90)" font-size="17.4" text-anchor="middle" font-weight="bold">SPR</text>
<text x="2.5" y="883.5" font-size="16.4" font-weight="bold"><tspan font-style="italic">t</tspan><tspan font-size="10.5" dy="6">w</tspan><tspan dy="-6"> (sec)</tspan></text>
<text x="228.8" y="895.3" font-size="17.75" text-anchor="middle" font-weight="bold" fill="#000" ># Pulse Number</text>
<line x1="415" y1="616.4" x2="699.9" y2="615.6" stroke="#555" stroke-width="1.0"/>
<line x1="448.7" y1="616.3" x2="449.2" y2="821.6" stroke="#a4a4a4" stroke-width="0.9"/>
<line x1="490.6" y1="616.3" x2="491.1" y2="819" stroke="#a4a4a4" stroke-width="0.9"/>
<line x1="531.5" y1="616.3" x2="532" y2="816.5" stroke="#a4a4a4" stroke-width="0.9"/>
<line x1="571" y1="616.3" x2="571.5" y2="814" stroke="#a4a4a4" stroke-width="0.9"/>
<line x1="608.4" y1="616" x2="608.4" y2="811.7" stroke="#a4a4a4" stroke-width="0.9"/>
<line x1="624" y1="616" x2="624" y2="819.4" stroke="#a4a4a4" stroke-width="0.9"/>
<line x1="646.1" y1="616" x2="646.1" y2="830.2" stroke="#a4a4a4" stroke-width="0.9"/>
<line x1="669.3" y1="616" x2="669.3" y2="841.6" stroke="#a4a4a4" stroke-width="0.9"/>
<line x1="698.5" y1="615.6" x2="695.3" y2="826" stroke="#a4a4a4" stroke-width="0.9"/>
<line x1="415.5" y1="668.6" x2="608.4" y2="665.7" stroke="#a4a4a4" stroke-width="0.9"/>
<line x1="608.4" y1="665.7" x2="695" y2="676.5" stroke="#a4a4a4" stroke-width="0.9"/>
<line x1="415.5" y1="720.9" x2="608.4" y2="715.2" stroke="#a4a4a4" stroke-width="0.9"/>
<line x1="608.4" y1="715.2" x2="695" y2="736.7" stroke="#a4a4a4" stroke-width="0.9"/>
<line x1="415.5" y1="772.4" x2="608.4" y2="763.9" stroke="#a4a4a4" stroke-width="0.9"/>
<line x1="608.4" y1="763.9" x2="695" y2="796" stroke="#a4a4a4" stroke-width="0.9"/>
<line x1="424.9" y1="832.2" x2="624" y2="819.4" stroke="#909090" stroke-width="0.9"/>
<line x1="437.6" y1="845.7" x2="648.2" y2="831.2" stroke="#909090" stroke-width="0.9"/>
<line x1="449.8" y1="858.6" x2="671.6" y2="842.7" stroke="#909090" stroke-width="0.9"/>
<line x1="505" y1="868.4" x2="452" y2="821.4" stroke="#909090" stroke-width="0.9"/>
<line x1="557" y1="864.5" x2="494.8" y2="818.8" stroke="#909090" stroke-width="0.9"/>
<line x1="609" y1="860.6" x2="537.6" y2="816.1" stroke="#909090" stroke-width="0.9"/>
<line x1="652" y1="857.4" x2="573" y2="813.9" stroke="#909090" stroke-width="0.9"/>
<line x1="416.7" y1="823.6" x2="608.4" y2="811.7" stroke="#aaa" stroke-width="0.9"/>
<line x1="608.4" y1="811.7" x2="695" y2="854.2" stroke="#555" stroke-width="0.9"/>
<line x1="415" y1="616.6" x2="416.7" y2="823.6" stroke="#222" stroke-width="1.2"/>
<line x1="416.7" y1="823.6" x2="462.1" y2="871.6" stroke="#222" stroke-width="1.2"/>
<line x1="462.1" y1="871.6" x2="695" y2="854.2" stroke="#222" stroke-width="1.2"/>
<line x1="695.3" y1="826" x2="695.3" y2="854" stroke="#222" stroke-width="1.1"/>
<path d="M420.3,827.5l6,-0.4M426.3,833.8l3.5,-0.2M432.2,840.1l6,-0.4M438.2,846.4l3.5,-0.2M444.2,852.7l6,-0.4M450.2,859l3.5,-0.2M456.1,865.3l6,-0.4M462.1,871.6l3.5,-0.2" stroke="#222" stroke-width="1" fill="none"/>
<path d="M416.6,808.6h2.2M416.5,799.5h2.2M416.4,793h2.2M416.4,788h2.2M416.4,783.9h2.2M416.3,780.4h2.2M416.3,777.4h2.2M416.3,774.8h2.2M416.3,772.4h3.5M416.2,756.8h2.2M416.1,747.7h2.2M416,741.2h2.2M416,736.2h2.2M415.9,732.1h2.2M415.9,728.6h2.2M415.9,725.6h2.2M415.9,723h2.2M415.9,720.6h3.5M415.7,705h2.2M415.7,695.9h2.2M415.6,689.4h2.2M415.6,684.4h2.2M415.5,680.3h2.2M415.5,676.8h2.2M415.5,673.8h2.2M415.4,671.2h2.2M415.4,668.8h3.5M415.3,653.2h2.2M415.2,644.1h2.2M415.2,637.6h2.2M415.1,632.6h2.2M415.1,628.5h2.2M415.1,625h2.2M415,622h2.2M415,619.4h2.2M415,616.6h3.5" stroke="#222" stroke-width="1" fill="none"/>
<defs><clipPath id="surfc"><polygon points="416.4,710.8 422,709 431.4,710.8 439.4,705.5 456.7,706 474.1,700.1 480.8,702.8 488.8,700.9 496.8,698.8 519.5,694.8 530.2,689.5 552.9,682.8 559.5,684.1 575.6,678.8 587.6,673.4 600.9,658.7 609.1,640 619.8,635.5 638.5,634.2 651.8,625.4 671.8,628 689.2,636 681.8,663.5 671.5,688.4 659,710.4 652.1,715.9 633.5,738.3 622.2,753.3 606.4,764.5 594.2,775.7 581.1,789.7 573.6,796.3 564.3,791.6 554.4,812.6 542.3,816 524.2,851.2 514.5,836 515.1,817.2 497,818.3 496.5,845 487.9,804.7 469.7,791.1 474.3,846.7 448.2,839.9 445.5,825 439.5,803 430,772"/></clipPath></defs>
<g clip-path="url(#surfc)">
<polygon points="405,600 705,600 705,640.5 620,638.5 600,638.5" fill="#ff0000" fill-opacity="1.0"/>
<polygon points="600,638.5 620,638.5 705,640.5 705,665 682,664.2 600,659 405,650" fill="#ff3a2a" fill-opacity="1.0"/>
<polygon points="405,650 600,659 682,664.2 705,665 705,690 672,688.4 590,680.3 540,678 405,672" fill="#ff6a55" fill-opacity="1.0"/>
<polygon points="405,672 540,678 590,680.3 672,688.4 705,690 705,718 655,712.6 590,703 500,698.8 405,694" fill="#ff9c7a" fill-opacity="1.0"/>
<polygon points="405,694 500,698.8 590,703 655,712.6 705,718 705,748 634,738.3 540,724.3 416,722.8 405,722.5" fill="#fdd5a0" fill-opacity="1.0"/>
<polygon points="405,722.5 416,722.8 540,724.3 634,738.3 705,748 705,775 608,763.6 540,752.3 425,746.3 405,746" fill="#e8fcb0" fill-opacity="1.0"/>
<polygon points="405,746 425,746.3 540,752.3 608,763.6 705,775 705,800 590,794.5 580,788.8 540,780.4 510,779.7 432,772.2 405,772" fill="#a8f888" fill-opacity="1.0"/>
<polygon points="405,772 432,772.2 510,779.7 540,780.4 580,788.8 590,794.5 705,800 705,830 540,814.9 480,802.4 465,804.7 405,800.5" fill="#66ee55" fill-opacity="1.0"/>
<polygon points="405,800.5 465,804.7 480,802.4 540,814.9 705,830 705,860 535,843.3 515,839.9 470,833.5 450,826 405,823" fill="#33bb33" fill-opacity="1.0"/>
<polygon points="405,823 450,826 470,833.5 515,839.9 535,843.3 705,860 705,900 405,900" fill="#008800" fill-opacity="1.0"/>
</g>
<polygon points="495.8,845.5 503.8,852.3 513,836.5" fill="#008800" fill-opacity="1.0"/>
<polygon points="503,839 513,836.5 508.5,844" fill="#33bb33" fill-opacity="1.0"/>
<rect x="683" y="668" width="66" height="160" fill="#fff"/>
<rect x="687" y="681.6" width="18" height="14.7" fill="#ff0000"/>
<rect x="687" y="696.1" width="18" height="14.7" fill="#ff3a2a"/>
<rect x="687" y="710.5" width="18" height="14.7" fill="#ff6a55"/>
<rect x="687" y="725" width="18" height="14.7" fill="#ff9c7a"/>
<rect x="687" y="739.4" width="18" height="14.7" fill="#fdd5a0"/>
<rect x="687" y="753.9" width="18" height="14.7" fill="#e8fcb0"/>
<rect x="687" y="768.4" width="18" height="14.7" fill="#a8f888"/>
<rect x="687" y="782.8" width="18" height="14.7" fill="#66ee55"/>
<rect x="687" y="797.3" width="18" height="14.7" fill="#33bb33"/>
<rect x="687" y="811.7" width="18" height="14.7" fill="#008800"/>
<text transform="translate(711,686) scale(1,1.16)" font-size="13.6" text-anchor="start" font-weight="bold" fill="#000" >1000</text>
<text transform="translate(711,700.4) scale(1,1.16)" font-size="13.6" text-anchor="start" font-weight="bold" fill="#000" >398.1</text>
<text transform="translate(711,714.8) scale(1,1.16)" font-size="13.6" text-anchor="start" font-weight="bold" fill="#000" >158.5</text>
<text transform="translate(711,729.3) scale(1,1.16)" font-size="13.6" text-anchor="start" font-weight="bold" fill="#000" >63.10</text>
<text transform="translate(711,743.7) scale(1,1.16)" font-size="13.6" text-anchor="start" font-weight="bold" fill="#000" >25.12</text>
<text transform="translate(711,758.1) scale(1,1.16)" font-size="13.6" text-anchor="start" font-weight="bold" fill="#000" >10.00</text>
<text transform="translate(711,772.5) scale(1,1.16)" font-size="13.6" text-anchor="start" font-weight="bold" fill="#000" >3.981</text>
<text transform="translate(711,786.9) scale(1,1.16)" font-size="13.6" text-anchor="start" font-weight="bold" fill="#000" >1.585</text>
<text transform="translate(711,801.4) scale(1,1.16)" font-size="13.6" text-anchor="start" font-weight="bold" fill="#000" >0.6310</text>
<text transform="translate(711,815.8) scale(1,1.16)" font-size="13.6" text-anchor="start" font-weight="bold" fill="#000" >0.2512</text>
<text transform="translate(711,830.2) scale(1,1.16)" font-size="13.6" text-anchor="start" font-weight="bold" fill="#000" >0.1000</text>
<text transform="translate(413.5,621.7) scale(1,1.12)" font-size="12.6" text-anchor="end" letter-spacing="-0.3">10<tspan font-size="8" dy="-6">3</tspan></text>
<text transform="translate(413.5,674) scale(1,1.12)" font-size="12.6" text-anchor="end" letter-spacing="-0.3">10<tspan font-size="8" dy="-6">2</tspan></text>
<text transform="translate(413.5,726.3) scale(1,1.12)" font-size="12.6" text-anchor="end" letter-spacing="-0.3">10<tspan font-size="8" dy="-6">1</tspan></text>
<text transform="translate(413.5,777.8) scale(1,1.12)" font-size="12.6" text-anchor="end" letter-spacing="-0.3">10<tspan font-size="8" dy="-6">0</tspan></text>
<text transform="translate(413.5,829.4) scale(1,1.12)" font-size="12.6" text-anchor="end" letter-spacing="-0.3">10<tspan font-size="8" dy="-6">-1</tspan></text>
<text transform="translate(420.1,836.9) scale(1,1.12)" font-size="10.7" text-anchor="end" font-weight="normal" fill="#000" >0.5</text>
<text transform="translate(431.3,849.2) scale(1,1.12)" font-size="10.9" text-anchor="end" font-weight="normal" fill="#000" >1.0</text>
<text transform="translate(443.6,862.5) scale(1,1.12)" font-size="11.6" text-anchor="end" font-weight="normal" fill="#000" >1.5</text>
<text transform="translate(458,878) scale(1,1.12)" font-size="13.3" text-anchor="end" font-weight="normal" fill="#000" >2.0</text>
<text transform="translate(508.9,879.9) scale(1,1.12)" font-size="13.3" text-anchor="middle" font-weight="normal" fill="#000" >20</text>
<text transform="translate(560.9,876.5) scale(1,1.12)" font-size="13.3" text-anchor="middle" font-weight="normal" fill="#000" >15</text>
<text transform="translate(610.4,872.6) scale(1,1.12)" font-size="13.3" text-anchor="middle" font-weight="normal" fill="#000" >10</text>
<text transform="translate(654.5,869.2) scale(1,1.12)" font-size="13.3" text-anchor="middle" font-weight="normal" fill="#000" >5</text>
<text transform="translate(701.2,865.5) scale(1,1.12)" font-size="13.3" text-anchor="middle" font-weight="normal" fill="#000" >0</text>
<text transform="translate(385.6,731.5) rotate(-90)" font-size="17.4" text-anchor="middle" font-weight="bold">SPPF%</text>
<text x="382" y="877" font-size="15.8" font-weight="bold"><tspan font-style="italic">t</tspan><tspan font-size="10.5" dy="6">w</tspan><tspan dy="-6"> (sec)</tspan></text>
<text x="598.5" y="895.5" font-size="16.75" text-anchor="middle" font-weight="bold" fill="#000" ># Pulse Number</text>
</svg></body></html>
